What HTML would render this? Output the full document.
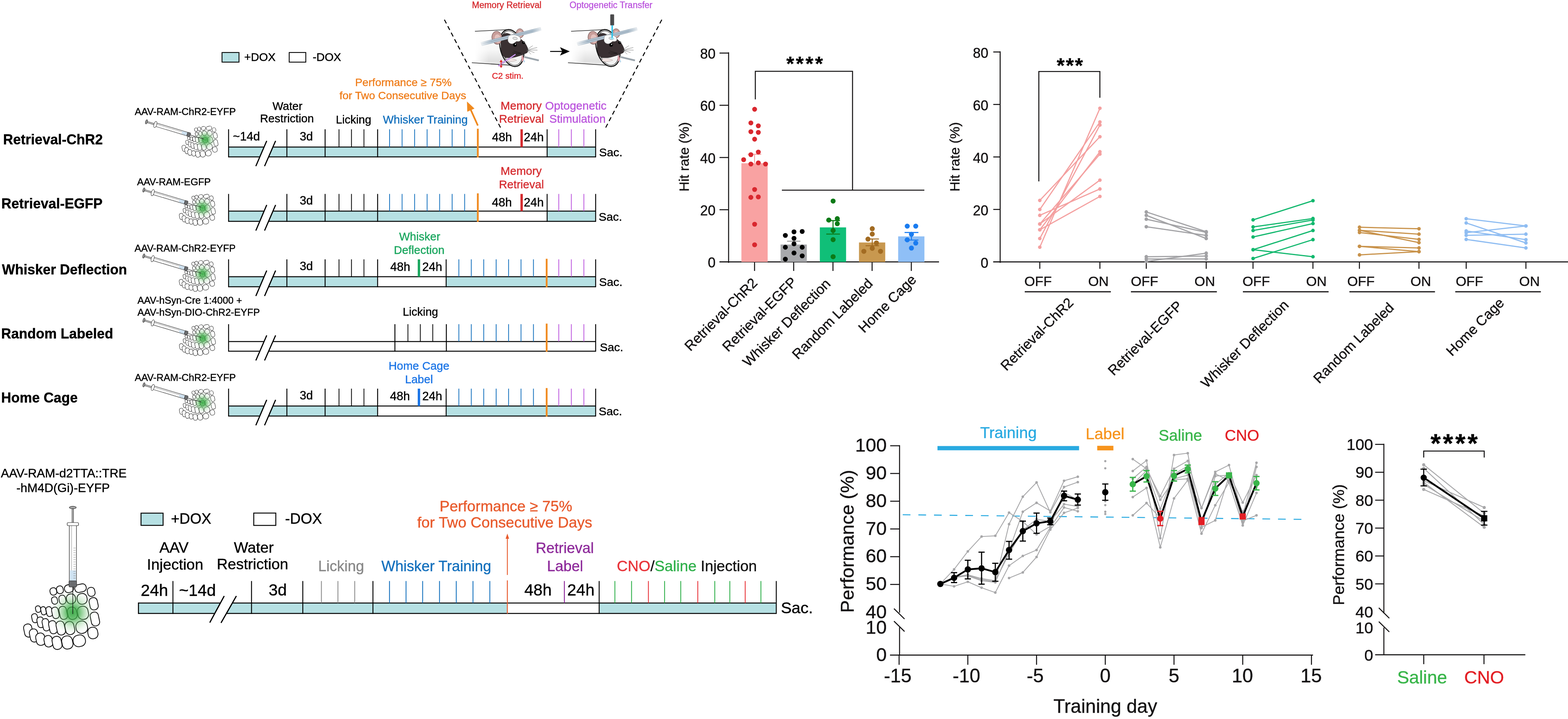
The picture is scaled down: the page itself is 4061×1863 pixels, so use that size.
<!DOCTYPE html>
<html><head><meta charset="utf-8"><title>Figure</title>
<style>
html,body{margin:0;padding:0;background:#fff;}
body{width:4061px;height:1863px;overflow:hidden;}
svg{display:block;}
svg text{font-family:'Liberation Sans', Arial, sans-serif;stroke-width:0.5px;}
</style></head><body>
<svg width="4061" height="1863" viewBox="0 0 4061 1863">
<rect x="0" y="0" width="4061" height="1863" fill="#fff"/>
<rect x="575" y="136" width="44" height="25" fill="#b6e0e3" stroke="#000" stroke-width="2.2"/>
<text x="632.5" y="158" font-size="29.5" fill="#000" stroke="#000">+DOX</text>
<rect x="749" y="136" width="43" height="25" fill="#fff" stroke="#000" stroke-width="2.2"/>
<text x="809.75" y="158" font-size="29.5" fill="#000" stroke="#000">-DOX</text>
<rect x="592" y="381" width="645" height="25.5" fill="#b6e0e3" stroke="none" stroke-width="0"/>
<rect x="1237" y="381" width="180" height="25.5" fill="#fff" stroke="none" stroke-width="0"/>
<rect x="1417" y="381" width="125.7" height="25.5" fill="#b6e0e3" stroke="none" stroke-width="0"/>
<line x1="592" y1="381" x2="1542.7" y2="381" stroke="#000" stroke-width="2.6"/>
<line x1="592" y1="406.5" x2="1542.7" y2="406.5" stroke="#000" stroke-width="2.6"/>
<line x1="592" y1="335" x2="592" y2="407.7" stroke="#000" stroke-width="2.4"/>
<line x1="743" y1="335" x2="743" y2="407.7" stroke="#000" stroke-width="2.4"/>
<line x1="842" y1="335" x2="842" y2="407.7" stroke="#000" stroke-width="2.4"/>
<line x1="978" y1="335" x2="978" y2="407.7" stroke="#000" stroke-width="2.4"/>
<line x1="1417" y1="335" x2="1417" y2="407.7" stroke="#000" stroke-width="2.4"/>
<line x1="1542.7" y1="335" x2="1542.7" y2="407.7" stroke="#000" stroke-width="2.4"/>
<line x1="878" y1="335" x2="878" y2="381" stroke="#000" stroke-width="2"/>
<line x1="910.3" y1="335" x2="910.3" y2="381" stroke="#000" stroke-width="2"/>
<line x1="942.6" y1="335" x2="942.6" y2="381" stroke="#000" stroke-width="2"/>
<line x1="1009" y1="335" x2="1009" y2="381" stroke="#1370bd" stroke-width="2"/>
<line x1="1041.4" y1="335" x2="1041.4" y2="381" stroke="#1370bd" stroke-width="2"/>
<line x1="1073.8" y1="335" x2="1073.8" y2="381" stroke="#1370bd" stroke-width="2"/>
<line x1="1106.2" y1="335" x2="1106.2" y2="381" stroke="#1370bd" stroke-width="2"/>
<line x1="1138.6" y1="335" x2="1138.6" y2="381" stroke="#1370bd" stroke-width="2"/>
<line x1="1171" y1="335" x2="1171" y2="381" stroke="#1370bd" stroke-width="2"/>
<line x1="1203.4" y1="335" x2="1203.4" y2="381" stroke="#1370bd" stroke-width="2"/>
<line x1="1447.2" y1="335" x2="1447.2" y2="381" stroke="#bb55dd" stroke-width="2"/>
<line x1="1479.7" y1="335" x2="1479.7" y2="381" stroke="#bb55dd" stroke-width="2"/>
<line x1="1512.2" y1="335" x2="1512.2" y2="381" stroke="#bb55dd" stroke-width="2"/>
<line x1="1351" y1="335" x2="1351" y2="381" stroke="#d52b2f" stroke-width="6.2"/>
<line x1="1237.5" y1="333.5" x2="1237.5" y2="408" stroke="#f08a1f" stroke-width="4.6"/>
<polygon points="684.77,379 707.69,379 694.81,408.5 672.07,408.5" fill="#fff" stroke="none" stroke-width="0"/>
<line x1="662.6" y1="430.5" x2="690.8" y2="365" stroke="#000" stroke-width="3"/>
<line x1="685.2" y1="430.5" x2="713.8" y2="365" stroke="#000" stroke-width="3"/>
<rect x="592" y="547" width="645" height="26.5" fill="#b6e0e3" stroke="none" stroke-width="0"/>
<rect x="1237" y="547" width="180" height="26.5" fill="#fff" stroke="none" stroke-width="0"/>
<rect x="1417" y="547" width="125.7" height="26.5" fill="#b6e0e3" stroke="none" stroke-width="0"/>
<line x1="592" y1="547" x2="1542.7" y2="547" stroke="#000" stroke-width="2.6"/>
<line x1="592" y1="573.5" x2="1542.7" y2="573.5" stroke="#000" stroke-width="2.6"/>
<line x1="592" y1="502.5" x2="592" y2="574.7" stroke="#000" stroke-width="2.4"/>
<line x1="743" y1="502.5" x2="743" y2="574.7" stroke="#000" stroke-width="2.4"/>
<line x1="842" y1="502.5" x2="842" y2="574.7" stroke="#000" stroke-width="2.4"/>
<line x1="978" y1="502.5" x2="978" y2="574.7" stroke="#000" stroke-width="2.4"/>
<line x1="1417" y1="502.5" x2="1417" y2="574.7" stroke="#000" stroke-width="2.4"/>
<line x1="1542.7" y1="502.5" x2="1542.7" y2="574.7" stroke="#000" stroke-width="2.4"/>
<line x1="878" y1="502.5" x2="878" y2="547" stroke="#000" stroke-width="2"/>
<line x1="910.3" y1="502.5" x2="910.3" y2="547" stroke="#000" stroke-width="2"/>
<line x1="942.6" y1="502.5" x2="942.6" y2="547" stroke="#000" stroke-width="2"/>
<line x1="1009" y1="502.5" x2="1009" y2="547" stroke="#1370bd" stroke-width="2"/>
<line x1="1041.4" y1="502.5" x2="1041.4" y2="547" stroke="#1370bd" stroke-width="2"/>
<line x1="1073.8" y1="502.5" x2="1073.8" y2="547" stroke="#1370bd" stroke-width="2"/>
<line x1="1106.2" y1="502.5" x2="1106.2" y2="547" stroke="#1370bd" stroke-width="2"/>
<line x1="1138.6" y1="502.5" x2="1138.6" y2="547" stroke="#1370bd" stroke-width="2"/>
<line x1="1171" y1="502.5" x2="1171" y2="547" stroke="#1370bd" stroke-width="2"/>
<line x1="1203.4" y1="502.5" x2="1203.4" y2="547" stroke="#1370bd" stroke-width="2"/>
<line x1="1447.2" y1="502.5" x2="1447.2" y2="547" stroke="#bb55dd" stroke-width="2"/>
<line x1="1479.7" y1="502.5" x2="1479.7" y2="547" stroke="#bb55dd" stroke-width="2"/>
<line x1="1512.2" y1="502.5" x2="1512.2" y2="547" stroke="#bb55dd" stroke-width="2"/>
<line x1="1351" y1="502.5" x2="1351" y2="547" stroke="#d52b2f" stroke-width="6.2"/>
<line x1="1237.5" y1="501" x2="1237.5" y2="575" stroke="#f08a1f" stroke-width="4.6"/>
<polygon points="684.86,545 707.78,545 694.66,575.5 671.93,575.5" fill="#fff" stroke="none" stroke-width="0"/>
<line x1="662.6" y1="597.5" x2="690.8" y2="531" stroke="#000" stroke-width="3"/>
<line x1="685.2" y1="597.5" x2="713.8" y2="531" stroke="#000" stroke-width="3"/>
<rect x="592" y="717" width="386" height="26" fill="#b6e0e3" stroke="none" stroke-width="0"/>
<rect x="978" y="717" width="177.5" height="26" fill="#fff" stroke="none" stroke-width="0"/>
<rect x="1155.5" y="717" width="387.2" height="26" fill="#b6e0e3" stroke="none" stroke-width="0"/>
<line x1="592" y1="717" x2="1542.7" y2="717" stroke="#000" stroke-width="2.6"/>
<line x1="592" y1="743" x2="1542.7" y2="743" stroke="#000" stroke-width="2.6"/>
<line x1="592" y1="672" x2="592" y2="744.2" stroke="#000" stroke-width="2.4"/>
<line x1="743" y1="672" x2="743" y2="744.2" stroke="#000" stroke-width="2.4"/>
<line x1="842" y1="672" x2="842" y2="744.2" stroke="#000" stroke-width="2.4"/>
<line x1="978" y1="672" x2="978" y2="744.2" stroke="#000" stroke-width="2.4"/>
<line x1="1155.5" y1="672" x2="1155.5" y2="744.2" stroke="#000" stroke-width="2.4"/>
<line x1="1542.7" y1="672" x2="1542.7" y2="744.2" stroke="#000" stroke-width="2.4"/>
<line x1="878" y1="672" x2="878" y2="717" stroke="#000" stroke-width="2"/>
<line x1="910.3" y1="672" x2="910.3" y2="717" stroke="#000" stroke-width="2"/>
<line x1="942.6" y1="672" x2="942.6" y2="717" stroke="#000" stroke-width="2"/>
<line x1="1188.4" y1="672" x2="1188.4" y2="717" stroke="#1370bd" stroke-width="2"/>
<line x1="1220.6" y1="672" x2="1220.6" y2="717" stroke="#1370bd" stroke-width="2"/>
<line x1="1252.8" y1="672" x2="1252.8" y2="717" stroke="#1370bd" stroke-width="2"/>
<line x1="1285" y1="672" x2="1285" y2="717" stroke="#1370bd" stroke-width="2"/>
<line x1="1317.2" y1="672" x2="1317.2" y2="717" stroke="#1370bd" stroke-width="2"/>
<line x1="1349.4" y1="672" x2="1349.4" y2="717" stroke="#1370bd" stroke-width="2"/>
<line x1="1381.6" y1="672" x2="1381.6" y2="717" stroke="#1370bd" stroke-width="2"/>
<line x1="1447.2" y1="672" x2="1447.2" y2="717" stroke="#bb55dd" stroke-width="2"/>
<line x1="1479.7" y1="672" x2="1479.7" y2="717" stroke="#bb55dd" stroke-width="2"/>
<line x1="1512.2" y1="672" x2="1512.2" y2="717" stroke="#bb55dd" stroke-width="2"/>
<line x1="1085" y1="672" x2="1085" y2="717" stroke="#1ba75f" stroke-width="6.2"/>
<line x1="1415.8" y1="670.5" x2="1415.8" y2="744.5" stroke="#f08a1f" stroke-width="4.6"/>
<polygon points="684.82,715 707.73,715 694.73,745 672,745" fill="#fff" stroke="none" stroke-width="0"/>
<line x1="662.6" y1="767" x2="690.8" y2="701" stroke="#000" stroke-width="3"/>
<line x1="685.2" y1="767" x2="713.8" y2="701" stroke="#000" stroke-width="3"/>
<rect x="592" y="885" width="950.7" height="25" fill="#fff" stroke="none" stroke-width="0"/>
<line x1="592" y1="885" x2="1542.7" y2="885" stroke="#000" stroke-width="2.6"/>
<line x1="592" y1="910" x2="1542.7" y2="910" stroke="#000" stroke-width="2.6"/>
<line x1="592" y1="840" x2="592" y2="911.2" stroke="#000" stroke-width="2.4"/>
<line x1="1022.8" y1="840" x2="1022.8" y2="911.2" stroke="#000" stroke-width="2.4"/>
<line x1="1156" y1="840" x2="1156" y2="911.2" stroke="#000" stroke-width="2.4"/>
<line x1="1542.7" y1="840" x2="1542.7" y2="911.2" stroke="#000" stroke-width="2.4"/>
<line x1="1056.5" y1="840" x2="1056.5" y2="885" stroke="#000" stroke-width="2"/>
<line x1="1088.6" y1="840" x2="1088.6" y2="885" stroke="#000" stroke-width="2"/>
<line x1="1120.8" y1="840" x2="1120.8" y2="885" stroke="#000" stroke-width="2"/>
<line x1="1188.4" y1="840" x2="1188.4" y2="885" stroke="#1370bd" stroke-width="2"/>
<line x1="1220.6" y1="840" x2="1220.6" y2="885" stroke="#1370bd" stroke-width="2"/>
<line x1="1252.8" y1="840" x2="1252.8" y2="885" stroke="#1370bd" stroke-width="2"/>
<line x1="1285" y1="840" x2="1285" y2="885" stroke="#1370bd" stroke-width="2"/>
<line x1="1317.2" y1="840" x2="1317.2" y2="885" stroke="#1370bd" stroke-width="2"/>
<line x1="1349.4" y1="840" x2="1349.4" y2="885" stroke="#1370bd" stroke-width="2"/>
<line x1="1381.6" y1="840" x2="1381.6" y2="885" stroke="#1370bd" stroke-width="2"/>
<line x1="1447.2" y1="840" x2="1447.2" y2="885" stroke="#bb55dd" stroke-width="2"/>
<line x1="1479.7" y1="840" x2="1479.7" y2="885" stroke="#bb55dd" stroke-width="2"/>
<line x1="1512.2" y1="840" x2="1512.2" y2="885" stroke="#bb55dd" stroke-width="2"/>
<line x1="1415.8" y1="838.5" x2="1415.8" y2="911.5" stroke="#f08a1f" stroke-width="4.6"/>
<polygon points="684.73,883 707.64,883 694.88,912 672.14,912" fill="#fff" stroke="none" stroke-width="0"/>
<line x1="662.6" y1="934" x2="690.8" y2="869" stroke="#000" stroke-width="3"/>
<line x1="685.2" y1="934" x2="713.8" y2="869" stroke="#000" stroke-width="3"/>
<rect x="592" y="1052" width="386" height="26" fill="#b6e0e3" stroke="none" stroke-width="0"/>
<rect x="978" y="1052" width="177.5" height="26" fill="#fff" stroke="none" stroke-width="0"/>
<rect x="1155.5" y="1052" width="387.2" height="26" fill="#b6e0e3" stroke="none" stroke-width="0"/>
<line x1="592" y1="1052" x2="1542.7" y2="1052" stroke="#000" stroke-width="2.6"/>
<line x1="592" y1="1078" x2="1542.7" y2="1078" stroke="#000" stroke-width="2.6"/>
<line x1="592" y1="1007" x2="592" y2="1079.2" stroke="#000" stroke-width="2.4"/>
<line x1="743" y1="1007" x2="743" y2="1079.2" stroke="#000" stroke-width="2.4"/>
<line x1="842" y1="1007" x2="842" y2="1079.2" stroke="#000" stroke-width="2.4"/>
<line x1="978" y1="1007" x2="978" y2="1079.2" stroke="#000" stroke-width="2.4"/>
<line x1="1155.5" y1="1007" x2="1155.5" y2="1079.2" stroke="#000" stroke-width="2.4"/>
<line x1="1542.7" y1="1007" x2="1542.7" y2="1079.2" stroke="#000" stroke-width="2.4"/>
<line x1="878" y1="1007" x2="878" y2="1052" stroke="#000" stroke-width="2"/>
<line x1="910.3" y1="1007" x2="910.3" y2="1052" stroke="#000" stroke-width="2"/>
<line x1="942.6" y1="1007" x2="942.6" y2="1052" stroke="#000" stroke-width="2"/>
<line x1="1188.4" y1="1007" x2="1188.4" y2="1052" stroke="#1370bd" stroke-width="2"/>
<line x1="1220.6" y1="1007" x2="1220.6" y2="1052" stroke="#1370bd" stroke-width="2"/>
<line x1="1252.8" y1="1007" x2="1252.8" y2="1052" stroke="#1370bd" stroke-width="2"/>
<line x1="1285" y1="1007" x2="1285" y2="1052" stroke="#1370bd" stroke-width="2"/>
<line x1="1317.2" y1="1007" x2="1317.2" y2="1052" stroke="#1370bd" stroke-width="2"/>
<line x1="1349.4" y1="1007" x2="1349.4" y2="1052" stroke="#1370bd" stroke-width="2"/>
<line x1="1381.6" y1="1007" x2="1381.6" y2="1052" stroke="#1370bd" stroke-width="2"/>
<line x1="1447.2" y1="1007" x2="1447.2" y2="1052" stroke="#bb55dd" stroke-width="2"/>
<line x1="1479.7" y1="1007" x2="1479.7" y2="1052" stroke="#bb55dd" stroke-width="2"/>
<line x1="1512.2" y1="1007" x2="1512.2" y2="1052" stroke="#bb55dd" stroke-width="2"/>
<line x1="1085" y1="1007" x2="1085" y2="1052" stroke="#1a74e6" stroke-width="6.2"/>
<line x1="1415.8" y1="1005.5" x2="1415.8" y2="1079.5" stroke="#f08a1f" stroke-width="4.6"/>
<polygon points="684.82,1050 707.73,1050 694.73,1080 672,1080" fill="#fff" stroke="none" stroke-width="0"/>
<line x1="662.6" y1="1102" x2="690.8" y2="1036" stroke="#000" stroke-width="3"/>
<line x1="685.2" y1="1102" x2="713.8" y2="1036" stroke="#000" stroke-width="3"/>
<text x="8.1" y="374" font-size="36" font-weight="bold" fill="#000" stroke="#000">Retrieval-ChR2</text>
<text x="3.5" y="540" font-size="36" font-weight="bold" fill="#000" stroke="#000">Retrieval-EGFP</text>
<text x="5" y="711" font-size="36" font-weight="bold" fill="#000" stroke="#000">Whisker Deflection</text>
<text x="3.1" y="877" font-size="36" font-weight="bold" fill="#000" stroke="#000">Random Labeled</text>
<text x="3.1" y="1043" font-size="36" font-weight="bold" fill="#000" stroke="#000">Home Cage</text>
<text x="349" y="298" font-size="25.5" fill="#000" stroke="#000">AAV-RAM-ChR2-EYFP</text>
<text x="355" y="480" font-size="25.5" fill="#000" stroke="#000">AAV-RAM-EGFP</text>
<text x="348.6" y="651.7" font-size="25.5" fill="#000" stroke="#000">AAV-RAM-ChR2-EYFP</text>
<text x="356" y="787" font-size="25.5" fill="#000" stroke="#000">AAV-hSyn-Cre 1:4000 +</text>
<text x="356" y="817.5" font-size="25.5" fill="#000" stroke="#000">AAV-hSyn-DIO-ChR2-EYFP</text>
<text x="349" y="986.5" font-size="25.5" fill="#000" stroke="#000">AAV-RAM-ChR2-EYFP</text>
<defs><radialGradient id="gg1" cx="0.5" cy="0.5" r="0.5"><stop offset="0" stop-color="#37a943" stop-opacity="0.95"/><stop offset="0.3" stop-color="#3fae49" stop-opacity="0.75"/><stop offset="0.65" stop-color="#6cc26f" stop-opacity="0.28"/><stop offset="1" stop-color="#a5dba5" stop-opacity="0"/></radialGradient></defs>
<g transform="translate(379.3 315.7)">
<rect x="124.35" y="15.77" width="8.12" height="9.14" rx="3.74" fill="#fff" stroke="#111" stroke-width="0.95" transform="rotate(-12 128.42 20.34)"/>
<rect x="132.48" y="13.49" width="8.12" height="9.64" rx="3.74" fill="#fff" stroke="#111" stroke-width="0.95" transform="rotate(-12 136.54 18.31)"/>
<rect x="142.12" y="11.96" width="11.17" height="9.64" rx="4.44" fill="#fff" stroke="#111" stroke-width="0.95" transform="rotate(-12 147.71 16.79)"/>
<rect x="154.81" y="11.46" width="14.21" height="9.64" rx="4.44" fill="#fff" stroke="#111" stroke-width="0.95" transform="rotate(-12 161.92 16.28)"/>
<rect x="170.55" y="15.26" width="9.14" height="11.17" rx="4.2" fill="#fff" stroke="#111" stroke-width="0.95" transform="rotate(-12 175.12 20.85)"/>
<rect x="126.39" y="26.94" width="7.11" height="9.14" rx="3.27" fill="#fff" stroke="#111" stroke-width="0.95" transform="rotate(-12 129.94 31.51)"/>
<rect x="135.52" y="24.91" width="8.12" height="11.17" rx="3.74" fill="#fff" stroke="#111" stroke-width="0.95" transform="rotate(-12 139.58 30.49)"/>
<rect x="144.66" y="23.39" width="11.17" height="12.18" rx="5.14" fill="#fff" stroke="#111" stroke-width="0.95" transform="rotate(-12 150.24 29.48)"/>
<rect x="157.86" y="22.88" width="12.18" height="13.2" rx="5.6" fill="#fff" stroke="#111" stroke-width="0.95" transform="rotate(-12 163.95 29.48)"/>
<rect x="173.09" y="27.95" width="10.15" height="15.23" rx="4.67" fill="#fff" stroke="#111" stroke-width="0.95" transform="rotate(-12 178.16 35.57)"/>
<rect x="106.59" y="38.11" width="6.09" height="8.12" rx="2.8" fill="#fff" stroke="#111" stroke-width="0.95" transform="rotate(-12 109.63 42.17)"/>
<rect x="113.19" y="39.12" width="6.09" height="10.15" rx="2.8" fill="#fff" stroke="#111" stroke-width="0.95" transform="rotate(-12 116.23 44.2)"/>
<rect x="119.79" y="39.12" width="7.11" height="12.18" rx="3.27" fill="#fff" stroke="#111" stroke-width="0.95" transform="rotate(-12 123.34 45.21)"/>
<rect x="126.89" y="39.63" width="8.12" height="14.21" rx="3.74" fill="#fff" stroke="#111" stroke-width="0.95" transform="rotate(-12 130.95 46.74)"/>
<rect x="136.03" y="38.61" width="9.14" height="16.24" rx="4.2" fill="#fff" stroke="#111" stroke-width="0.95" transform="rotate(-12 140.6 46.74)"/>
<rect x="146.18" y="39.63" width="11.17" height="15.23" rx="5.14" fill="#fff" stroke="#111" stroke-width="0.95" transform="rotate(-12 151.77 47.24)"/>
<rect x="158.36" y="38.61" width="13.2" height="16.24" rx="6.07" fill="#fff" stroke="#111" stroke-width="0.95" transform="rotate(-12 164.96 46.74)"/>
<rect x="174.61" y="45.72" width="10.15" height="17.26" rx="4.67" fill="#fff" stroke="#111" stroke-width="0.95" transform="rotate(-12 179.68 54.35)"/>
<rect x="102.02" y="47.75" width="7.11" height="11.17" rx="3.27" fill="#fff" stroke="#111" stroke-width="0.95" transform="rotate(-12 105.57 53.34)"/>
<rect x="108.62" y="51.81" width="8.12" height="13.2" rx="3.74" fill="#fff" stroke="#111" stroke-width="0.95" transform="rotate(-12 112.68 58.41)"/>
<rect x="115.22" y="53.84" width="8.12" height="15.23" rx="3.74" fill="#fff" stroke="#111" stroke-width="0.95" transform="rotate(-12 119.28 61.46)"/>
<rect x="123.34" y="56.38" width="9.14" height="16.24" rx="4.2" fill="#fff" stroke="#111" stroke-width="0.95" transform="rotate(-12 127.91 64.5)"/>
<rect x="132.48" y="56.89" width="10.15" height="17.26" rx="4.67" fill="#fff" stroke="#111" stroke-width="0.95" transform="rotate(-12 137.55 65.52)"/>
<rect x="143.14" y="57.4" width="11.17" height="16.24" rx="5.14" fill="#fff" stroke="#111" stroke-width="0.95" transform="rotate(-12 148.72 65.52)"/>
<rect x="156.33" y="56.89" width="14.21" height="15.23" rx="6.54" fill="#fff" stroke="#111" stroke-width="0.95" transform="rotate(-12 163.44 64.5)"/>
<rect x="171.06" y="64.5" width="12.18" height="14.21" rx="5.6" fill="#fff" stroke="#111" stroke-width="0.95" transform="rotate(-12 177.15 71.61)"/>
<rect x="92.38" y="60.44" width="10.15" height="16.24" rx="4.67" fill="#fff" stroke="#111" stroke-width="0.95" transform="rotate(-12 97.45 68.56)"/>
<rect x="99.48" y="66.53" width="10.15" height="16.24" rx="4.67" fill="#fff" stroke="#111" stroke-width="0.95" transform="rotate(-12 104.56 74.66)"/>
<rect x="107.1" y="71.61" width="11.17" height="15.23" rx="5.14" fill="#fff" stroke="#111" stroke-width="0.95" transform="rotate(-12 112.68 79.22)"/>
<rect x="117.25" y="74.66" width="10.15" height="14.21" rx="4.67" fill="#fff" stroke="#111" stroke-width="0.95" transform="rotate(-12 122.32 81.76)"/>
<rect x="127.4" y="75.67" width="11.17" height="16.24" rx="5.14" fill="#fff" stroke="#111" stroke-width="0.95" transform="rotate(-12 132.98 83.79)"/>
<rect x="139.08" y="75.16" width="13.2" height="16.24" rx="6.07" fill="#fff" stroke="#111" stroke-width="0.95" transform="rotate(-12 145.67 83.28)"/>
<rect x="152.78" y="74.15" width="15.23" height="14.21" rx="6.54" fill="#fff" stroke="#111" stroke-width="0.95" transform="rotate(-12 160.4 81.25)"/>
<ellipse cx="152.3" cy="46.3" rx="27" ry="27" fill="url(#gg1)"/>
</g>
<g transform="translate(379.3 315.7) rotate(16.7)">
<rect x="0" y="-1.6" width="24" height="3.2" fill="#d8d8d8" stroke="#222" stroke-width="0.9"/>
<ellipse cx="0" cy="0" rx="2.4" ry="5.6" fill="#999" stroke="#222" stroke-width="1"/>
<rect x="24" y="-4.6" width="87" height="9.2" fill="#fff" stroke="#222" stroke-width="1"/>
<line x1="25" y1="-1.6" x2="100" y2="-1.6" stroke="#666" stroke-width="0.7"/>
<rect x="96" y="-4" width="14" height="8" fill="#cfe2f1"/>
<line x1="55.0" y1="2" x2="55.0" y2="4.2" stroke="#777" stroke-width="0.5"/>
<line x1="59.5" y1="2" x2="59.5" y2="4.2" stroke="#777" stroke-width="0.5"/>
<line x1="64.0" y1="2" x2="64.0" y2="4.2" stroke="#777" stroke-width="0.5"/>
<line x1="68.5" y1="2" x2="68.5" y2="4.2" stroke="#777" stroke-width="0.5"/>
<line x1="73.0" y1="2" x2="73.0" y2="4.2" stroke="#777" stroke-width="0.5"/>
<line x1="77.5" y1="2" x2="77.5" y2="4.2" stroke="#777" stroke-width="0.5"/>
<line x1="82.0" y1="2" x2="82.0" y2="4.2" stroke="#777" stroke-width="0.5"/>
<line x1="86.5" y1="2" x2="86.5" y2="4.2" stroke="#777" stroke-width="0.5"/>
<line x1="91.0" y1="2" x2="91.0" y2="4.2" stroke="#777" stroke-width="0.5"/>
<line x1="95.5" y1="2" x2="95.5" y2="4.2" stroke="#777" stroke-width="0.5"/>
<line x1="100.0" y1="2" x2="100.0" y2="4.2" stroke="#777" stroke-width="0.5"/>
<line x1="104.5" y1="2" x2="104.5" y2="4.2" stroke="#777" stroke-width="0.5"/>
<ellipse cx="24" cy="0" rx="3.6" ry="8.4" fill="#fff" stroke="#222" stroke-width="1"/>
<rect x="110" y="-5.2" width="8.5" height="10.4" rx="1.5" fill="#6a6c6f" stroke="#222" stroke-width="0.8"/>
<line x1="118" y1="0" x2="155.5" y2="0" stroke="#222" stroke-width="1.1"/>
</g>
<defs><radialGradient id="gg2" cx="0.5" cy="0.5" r="0.5"><stop offset="0" stop-color="#37a943" stop-opacity="0.95"/><stop offset="0.3" stop-color="#3fae49" stop-opacity="0.75"/><stop offset="0.65" stop-color="#6cc26f" stop-opacity="0.28"/><stop offset="1" stop-color="#a5dba5" stop-opacity="0"/></radialGradient></defs>
<g transform="translate(372.5 492.3)">
<rect x="124.35" y="15.77" width="8.12" height="9.14" rx="3.74" fill="#fff" stroke="#111" stroke-width="0.95" transform="rotate(-12 128.42 20.34)"/>
<rect x="132.48" y="13.49" width="8.12" height="9.64" rx="3.74" fill="#fff" stroke="#111" stroke-width="0.95" transform="rotate(-12 136.54 18.31)"/>
<rect x="142.12" y="11.96" width="11.17" height="9.64" rx="4.44" fill="#fff" stroke="#111" stroke-width="0.95" transform="rotate(-12 147.71 16.79)"/>
<rect x="154.81" y="11.46" width="14.21" height="9.64" rx="4.44" fill="#fff" stroke="#111" stroke-width="0.95" transform="rotate(-12 161.92 16.28)"/>
<rect x="170.55" y="15.26" width="9.14" height="11.17" rx="4.2" fill="#fff" stroke="#111" stroke-width="0.95" transform="rotate(-12 175.12 20.85)"/>
<rect x="126.39" y="26.94" width="7.11" height="9.14" rx="3.27" fill="#fff" stroke="#111" stroke-width="0.95" transform="rotate(-12 129.94 31.51)"/>
<rect x="135.52" y="24.91" width="8.12" height="11.17" rx="3.74" fill="#fff" stroke="#111" stroke-width="0.95" transform="rotate(-12 139.58 30.49)"/>
<rect x="144.66" y="23.39" width="11.17" height="12.18" rx="5.14" fill="#fff" stroke="#111" stroke-width="0.95" transform="rotate(-12 150.24 29.48)"/>
<rect x="157.86" y="22.88" width="12.18" height="13.2" rx="5.6" fill="#fff" stroke="#111" stroke-width="0.95" transform="rotate(-12 163.95 29.48)"/>
<rect x="173.09" y="27.95" width="10.15" height="15.23" rx="4.67" fill="#fff" stroke="#111" stroke-width="0.95" transform="rotate(-12 178.16 35.57)"/>
<rect x="106.59" y="38.11" width="6.09" height="8.12" rx="2.8" fill="#fff" stroke="#111" stroke-width="0.95" transform="rotate(-12 109.63 42.17)"/>
<rect x="113.19" y="39.12" width="6.09" height="10.15" rx="2.8" fill="#fff" stroke="#111" stroke-width="0.95" transform="rotate(-12 116.23 44.2)"/>
<rect x="119.79" y="39.12" width="7.11" height="12.18" rx="3.27" fill="#fff" stroke="#111" stroke-width="0.95" transform="rotate(-12 123.34 45.21)"/>
<rect x="126.89" y="39.63" width="8.12" height="14.21" rx="3.74" fill="#fff" stroke="#111" stroke-width="0.95" transform="rotate(-12 130.95 46.74)"/>
<rect x="136.03" y="38.61" width="9.14" height="16.24" rx="4.2" fill="#fff" stroke="#111" stroke-width="0.95" transform="rotate(-12 140.6 46.74)"/>
<rect x="146.18" y="39.63" width="11.17" height="15.23" rx="5.14" fill="#fff" stroke="#111" stroke-width="0.95" transform="rotate(-12 151.77 47.24)"/>
<rect x="158.36" y="38.61" width="13.2" height="16.24" rx="6.07" fill="#fff" stroke="#111" stroke-width="0.95" transform="rotate(-12 164.96 46.74)"/>
<rect x="174.61" y="45.72" width="10.15" height="17.26" rx="4.67" fill="#fff" stroke="#111" stroke-width="0.95" transform="rotate(-12 179.68 54.35)"/>
<rect x="102.02" y="47.75" width="7.11" height="11.17" rx="3.27" fill="#fff" stroke="#111" stroke-width="0.95" transform="rotate(-12 105.57 53.34)"/>
<rect x="108.62" y="51.81" width="8.12" height="13.2" rx="3.74" fill="#fff" stroke="#111" stroke-width="0.95" transform="rotate(-12 112.68 58.41)"/>
<rect x="115.22" y="53.84" width="8.12" height="15.23" rx="3.74" fill="#fff" stroke="#111" stroke-width="0.95" transform="rotate(-12 119.28 61.46)"/>
<rect x="123.34" y="56.38" width="9.14" height="16.24" rx="4.2" fill="#fff" stroke="#111" stroke-width="0.95" transform="rotate(-12 127.91 64.5)"/>
<rect x="132.48" y="56.89" width="10.15" height="17.26" rx="4.67" fill="#fff" stroke="#111" stroke-width="0.95" transform="rotate(-12 137.55 65.52)"/>
<rect x="143.14" y="57.4" width="11.17" height="16.24" rx="5.14" fill="#fff" stroke="#111" stroke-width="0.95" transform="rotate(-12 148.72 65.52)"/>
<rect x="156.33" y="56.89" width="14.21" height="15.23" rx="6.54" fill="#fff" stroke="#111" stroke-width="0.95" transform="rotate(-12 163.44 64.5)"/>
<rect x="171.06" y="64.5" width="12.18" height="14.21" rx="5.6" fill="#fff" stroke="#111" stroke-width="0.95" transform="rotate(-12 177.15 71.61)"/>
<rect x="92.38" y="60.44" width="10.15" height="16.24" rx="4.67" fill="#fff" stroke="#111" stroke-width="0.95" transform="rotate(-12 97.45 68.56)"/>
<rect x="99.48" y="66.53" width="10.15" height="16.24" rx="4.67" fill="#fff" stroke="#111" stroke-width="0.95" transform="rotate(-12 104.56 74.66)"/>
<rect x="107.1" y="71.61" width="11.17" height="15.23" rx="5.14" fill="#fff" stroke="#111" stroke-width="0.95" transform="rotate(-12 112.68 79.22)"/>
<rect x="117.25" y="74.66" width="10.15" height="14.21" rx="4.67" fill="#fff" stroke="#111" stroke-width="0.95" transform="rotate(-12 122.32 81.76)"/>
<rect x="127.4" y="75.67" width="11.17" height="16.24" rx="5.14" fill="#fff" stroke="#111" stroke-width="0.95" transform="rotate(-12 132.98 83.79)"/>
<rect x="139.08" y="75.16" width="13.2" height="16.24" rx="6.07" fill="#fff" stroke="#111" stroke-width="0.95" transform="rotate(-12 145.67 83.28)"/>
<rect x="152.78" y="74.15" width="15.23" height="14.21" rx="6.54" fill="#fff" stroke="#111" stroke-width="0.95" transform="rotate(-12 160.4 81.25)"/>
<ellipse cx="152.3" cy="46.3" rx="27" ry="27" fill="url(#gg2)"/>
</g>
<g transform="translate(372.5 492.3) rotate(16.7)">
<rect x="0" y="-1.6" width="24" height="3.2" fill="#d8d8d8" stroke="#222" stroke-width="0.9"/>
<ellipse cx="0" cy="0" rx="2.4" ry="5.6" fill="#999" stroke="#222" stroke-width="1"/>
<rect x="24" y="-4.6" width="87" height="9.2" fill="#fff" stroke="#222" stroke-width="1"/>
<line x1="25" y1="-1.6" x2="100" y2="-1.6" stroke="#666" stroke-width="0.7"/>
<rect x="96" y="-4" width="14" height="8" fill="#cfe2f1"/>
<line x1="55.0" y1="2" x2="55.0" y2="4.2" stroke="#777" stroke-width="0.5"/>
<line x1="59.5" y1="2" x2="59.5" y2="4.2" stroke="#777" stroke-width="0.5"/>
<line x1="64.0" y1="2" x2="64.0" y2="4.2" stroke="#777" stroke-width="0.5"/>
<line x1="68.5" y1="2" x2="68.5" y2="4.2" stroke="#777" stroke-width="0.5"/>
<line x1="73.0" y1="2" x2="73.0" y2="4.2" stroke="#777" stroke-width="0.5"/>
<line x1="77.5" y1="2" x2="77.5" y2="4.2" stroke="#777" stroke-width="0.5"/>
<line x1="82.0" y1="2" x2="82.0" y2="4.2" stroke="#777" stroke-width="0.5"/>
<line x1="86.5" y1="2" x2="86.5" y2="4.2" stroke="#777" stroke-width="0.5"/>
<line x1="91.0" y1="2" x2="91.0" y2="4.2" stroke="#777" stroke-width="0.5"/>
<line x1="95.5" y1="2" x2="95.5" y2="4.2" stroke="#777" stroke-width="0.5"/>
<line x1="100.0" y1="2" x2="100.0" y2="4.2" stroke="#777" stroke-width="0.5"/>
<line x1="104.5" y1="2" x2="104.5" y2="4.2" stroke="#777" stroke-width="0.5"/>
<ellipse cx="24" cy="0" rx="3.6" ry="8.4" fill="#fff" stroke="#222" stroke-width="1"/>
<rect x="110" y="-5.2" width="8.5" height="10.4" rx="1.5" fill="#6a6c6f" stroke="#222" stroke-width="0.8"/>
<line x1="118" y1="0" x2="155.5" y2="0" stroke="#222" stroke-width="1.1"/>
</g>
<defs><radialGradient id="gg3" cx="0.5" cy="0.5" r="0.5"><stop offset="0" stop-color="#37a943" stop-opacity="0.95"/><stop offset="0.3" stop-color="#3fae49" stop-opacity="0.75"/><stop offset="0.65" stop-color="#6cc26f" stop-opacity="0.28"/><stop offset="1" stop-color="#a5dba5" stop-opacity="0"/></radialGradient></defs>
<g transform="translate(372.3 663.3)">
<rect x="124.35" y="15.77" width="8.12" height="9.14" rx="3.74" fill="#fff" stroke="#111" stroke-width="0.95" transform="rotate(-12 128.42 20.34)"/>
<rect x="132.48" y="13.49" width="8.12" height="9.64" rx="3.74" fill="#fff" stroke="#111" stroke-width="0.95" transform="rotate(-12 136.54 18.31)"/>
<rect x="142.12" y="11.96" width="11.17" height="9.64" rx="4.44" fill="#fff" stroke="#111" stroke-width="0.95" transform="rotate(-12 147.71 16.79)"/>
<rect x="154.81" y="11.46" width="14.21" height="9.64" rx="4.44" fill="#fff" stroke="#111" stroke-width="0.95" transform="rotate(-12 161.92 16.28)"/>
<rect x="170.55" y="15.26" width="9.14" height="11.17" rx="4.2" fill="#fff" stroke="#111" stroke-width="0.95" transform="rotate(-12 175.12 20.85)"/>
<rect x="126.39" y="26.94" width="7.11" height="9.14" rx="3.27" fill="#fff" stroke="#111" stroke-width="0.95" transform="rotate(-12 129.94 31.51)"/>
<rect x="135.52" y="24.91" width="8.12" height="11.17" rx="3.74" fill="#fff" stroke="#111" stroke-width="0.95" transform="rotate(-12 139.58 30.49)"/>
<rect x="144.66" y="23.39" width="11.17" height="12.18" rx="5.14" fill="#fff" stroke="#111" stroke-width="0.95" transform="rotate(-12 150.24 29.48)"/>
<rect x="157.86" y="22.88" width="12.18" height="13.2" rx="5.6" fill="#fff" stroke="#111" stroke-width="0.95" transform="rotate(-12 163.95 29.48)"/>
<rect x="173.09" y="27.95" width="10.15" height="15.23" rx="4.67" fill="#fff" stroke="#111" stroke-width="0.95" transform="rotate(-12 178.16 35.57)"/>
<rect x="106.59" y="38.11" width="6.09" height="8.12" rx="2.8" fill="#fff" stroke="#111" stroke-width="0.95" transform="rotate(-12 109.63 42.17)"/>
<rect x="113.19" y="39.12" width="6.09" height="10.15" rx="2.8" fill="#fff" stroke="#111" stroke-width="0.95" transform="rotate(-12 116.23 44.2)"/>
<rect x="119.79" y="39.12" width="7.11" height="12.18" rx="3.27" fill="#fff" stroke="#111" stroke-width="0.95" transform="rotate(-12 123.34 45.21)"/>
<rect x="126.89" y="39.63" width="8.12" height="14.21" rx="3.74" fill="#fff" stroke="#111" stroke-width="0.95" transform="rotate(-12 130.95 46.74)"/>
<rect x="136.03" y="38.61" width="9.14" height="16.24" rx="4.2" fill="#fff" stroke="#111" stroke-width="0.95" transform="rotate(-12 140.6 46.74)"/>
<rect x="146.18" y="39.63" width="11.17" height="15.23" rx="5.14" fill="#fff" stroke="#111" stroke-width="0.95" transform="rotate(-12 151.77 47.24)"/>
<rect x="158.36" y="38.61" width="13.2" height="16.24" rx="6.07" fill="#fff" stroke="#111" stroke-width="0.95" transform="rotate(-12 164.96 46.74)"/>
<rect x="174.61" y="45.72" width="10.15" height="17.26" rx="4.67" fill="#fff" stroke="#111" stroke-width="0.95" transform="rotate(-12 179.68 54.35)"/>
<rect x="102.02" y="47.75" width="7.11" height="11.17" rx="3.27" fill="#fff" stroke="#111" stroke-width="0.95" transform="rotate(-12 105.57 53.34)"/>
<rect x="108.62" y="51.81" width="8.12" height="13.2" rx="3.74" fill="#fff" stroke="#111" stroke-width="0.95" transform="rotate(-12 112.68 58.41)"/>
<rect x="115.22" y="53.84" width="8.12" height="15.23" rx="3.74" fill="#fff" stroke="#111" stroke-width="0.95" transform="rotate(-12 119.28 61.46)"/>
<rect x="123.34" y="56.38" width="9.14" height="16.24" rx="4.2" fill="#fff" stroke="#111" stroke-width="0.95" transform="rotate(-12 127.91 64.5)"/>
<rect x="132.48" y="56.89" width="10.15" height="17.26" rx="4.67" fill="#fff" stroke="#111" stroke-width="0.95" transform="rotate(-12 137.55 65.52)"/>
<rect x="143.14" y="57.4" width="11.17" height="16.24" rx="5.14" fill="#fff" stroke="#111" stroke-width="0.95" transform="rotate(-12 148.72 65.52)"/>
<rect x="156.33" y="56.89" width="14.21" height="15.23" rx="6.54" fill="#fff" stroke="#111" stroke-width="0.95" transform="rotate(-12 163.44 64.5)"/>
<rect x="171.06" y="64.5" width="12.18" height="14.21" rx="5.6" fill="#fff" stroke="#111" stroke-width="0.95" transform="rotate(-12 177.15 71.61)"/>
<rect x="92.38" y="60.44" width="10.15" height="16.24" rx="4.67" fill="#fff" stroke="#111" stroke-width="0.95" transform="rotate(-12 97.45 68.56)"/>
<rect x="99.48" y="66.53" width="10.15" height="16.24" rx="4.67" fill="#fff" stroke="#111" stroke-width="0.95" transform="rotate(-12 104.56 74.66)"/>
<rect x="107.1" y="71.61" width="11.17" height="15.23" rx="5.14" fill="#fff" stroke="#111" stroke-width="0.95" transform="rotate(-12 112.68 79.22)"/>
<rect x="117.25" y="74.66" width="10.15" height="14.21" rx="4.67" fill="#fff" stroke="#111" stroke-width="0.95" transform="rotate(-12 122.32 81.76)"/>
<rect x="127.4" y="75.67" width="11.17" height="16.24" rx="5.14" fill="#fff" stroke="#111" stroke-width="0.95" transform="rotate(-12 132.98 83.79)"/>
<rect x="139.08" y="75.16" width="13.2" height="16.24" rx="6.07" fill="#fff" stroke="#111" stroke-width="0.95" transform="rotate(-12 145.67 83.28)"/>
<rect x="152.78" y="74.15" width="15.23" height="14.21" rx="6.54" fill="#fff" stroke="#111" stroke-width="0.95" transform="rotate(-12 160.4 81.25)"/>
<ellipse cx="152.3" cy="46.3" rx="27" ry="27" fill="url(#gg3)"/>
</g>
<g transform="translate(372.3 663.3) rotate(16.7)">
<rect x="0" y="-1.6" width="24" height="3.2" fill="#d8d8d8" stroke="#222" stroke-width="0.9"/>
<ellipse cx="0" cy="0" rx="2.4" ry="5.6" fill="#999" stroke="#222" stroke-width="1"/>
<rect x="24" y="-4.6" width="87" height="9.2" fill="#fff" stroke="#222" stroke-width="1"/>
<line x1="25" y1="-1.6" x2="100" y2="-1.6" stroke="#666" stroke-width="0.7"/>
<rect x="96" y="-4" width="14" height="8" fill="#cfe2f1"/>
<line x1="55.0" y1="2" x2="55.0" y2="4.2" stroke="#777" stroke-width="0.5"/>
<line x1="59.5" y1="2" x2="59.5" y2="4.2" stroke="#777" stroke-width="0.5"/>
<line x1="64.0" y1="2" x2="64.0" y2="4.2" stroke="#777" stroke-width="0.5"/>
<line x1="68.5" y1="2" x2="68.5" y2="4.2" stroke="#777" stroke-width="0.5"/>
<line x1="73.0" y1="2" x2="73.0" y2="4.2" stroke="#777" stroke-width="0.5"/>
<line x1="77.5" y1="2" x2="77.5" y2="4.2" stroke="#777" stroke-width="0.5"/>
<line x1="82.0" y1="2" x2="82.0" y2="4.2" stroke="#777" stroke-width="0.5"/>
<line x1="86.5" y1="2" x2="86.5" y2="4.2" stroke="#777" stroke-width="0.5"/>
<line x1="91.0" y1="2" x2="91.0" y2="4.2" stroke="#777" stroke-width="0.5"/>
<line x1="95.5" y1="2" x2="95.5" y2="4.2" stroke="#777" stroke-width="0.5"/>
<line x1="100.0" y1="2" x2="100.0" y2="4.2" stroke="#777" stroke-width="0.5"/>
<line x1="104.5" y1="2" x2="104.5" y2="4.2" stroke="#777" stroke-width="0.5"/>
<ellipse cx="24" cy="0" rx="3.6" ry="8.4" fill="#fff" stroke="#222" stroke-width="1"/>
<rect x="110" y="-5.2" width="8.5" height="10.4" rx="1.5" fill="#6a6c6f" stroke="#222" stroke-width="0.8"/>
<line x1="118" y1="0" x2="155.5" y2="0" stroke="#222" stroke-width="1.1"/>
</g>
<defs><radialGradient id="gg4" cx="0.5" cy="0.5" r="0.5"><stop offset="0" stop-color="#37a943" stop-opacity="0.95"/><stop offset="0.3" stop-color="#3fae49" stop-opacity="0.75"/><stop offset="0.65" stop-color="#6cc26f" stop-opacity="0.28"/><stop offset="1" stop-color="#a5dba5" stop-opacity="0"/></radialGradient></defs>
<g transform="translate(372.7 829.8)">
<rect x="124.35" y="15.77" width="8.12" height="9.14" rx="3.74" fill="#fff" stroke="#111" stroke-width="0.95" transform="rotate(-12 128.42 20.34)"/>
<rect x="132.48" y="13.49" width="8.12" height="9.64" rx="3.74" fill="#fff" stroke="#111" stroke-width="0.95" transform="rotate(-12 136.54 18.31)"/>
<rect x="142.12" y="11.96" width="11.17" height="9.64" rx="4.44" fill="#fff" stroke="#111" stroke-width="0.95" transform="rotate(-12 147.71 16.79)"/>
<rect x="154.81" y="11.46" width="14.21" height="9.64" rx="4.44" fill="#fff" stroke="#111" stroke-width="0.95" transform="rotate(-12 161.92 16.28)"/>
<rect x="170.55" y="15.26" width="9.14" height="11.17" rx="4.2" fill="#fff" stroke="#111" stroke-width="0.95" transform="rotate(-12 175.12 20.85)"/>
<rect x="126.39" y="26.94" width="7.11" height="9.14" rx="3.27" fill="#fff" stroke="#111" stroke-width="0.95" transform="rotate(-12 129.94 31.51)"/>
<rect x="135.52" y="24.91" width="8.12" height="11.17" rx="3.74" fill="#fff" stroke="#111" stroke-width="0.95" transform="rotate(-12 139.58 30.49)"/>
<rect x="144.66" y="23.39" width="11.17" height="12.18" rx="5.14" fill="#fff" stroke="#111" stroke-width="0.95" transform="rotate(-12 150.24 29.48)"/>
<rect x="157.86" y="22.88" width="12.18" height="13.2" rx="5.6" fill="#fff" stroke="#111" stroke-width="0.95" transform="rotate(-12 163.95 29.48)"/>
<rect x="173.09" y="27.95" width="10.15" height="15.23" rx="4.67" fill="#fff" stroke="#111" stroke-width="0.95" transform="rotate(-12 178.16 35.57)"/>
<rect x="106.59" y="38.11" width="6.09" height="8.12" rx="2.8" fill="#fff" stroke="#111" stroke-width="0.95" transform="rotate(-12 109.63 42.17)"/>
<rect x="113.19" y="39.12" width="6.09" height="10.15" rx="2.8" fill="#fff" stroke="#111" stroke-width="0.95" transform="rotate(-12 116.23 44.2)"/>
<rect x="119.79" y="39.12" width="7.11" height="12.18" rx="3.27" fill="#fff" stroke="#111" stroke-width="0.95" transform="rotate(-12 123.34 45.21)"/>
<rect x="126.89" y="39.63" width="8.12" height="14.21" rx="3.74" fill="#fff" stroke="#111" stroke-width="0.95" transform="rotate(-12 130.95 46.74)"/>
<rect x="136.03" y="38.61" width="9.14" height="16.24" rx="4.2" fill="#fff" stroke="#111" stroke-width="0.95" transform="rotate(-12 140.6 46.74)"/>
<rect x="146.18" y="39.63" width="11.17" height="15.23" rx="5.14" fill="#fff" stroke="#111" stroke-width="0.95" transform="rotate(-12 151.77 47.24)"/>
<rect x="158.36" y="38.61" width="13.2" height="16.24" rx="6.07" fill="#fff" stroke="#111" stroke-width="0.95" transform="rotate(-12 164.96 46.74)"/>
<rect x="174.61" y="45.72" width="10.15" height="17.26" rx="4.67" fill="#fff" stroke="#111" stroke-width="0.95" transform="rotate(-12 179.68 54.35)"/>
<rect x="102.02" y="47.75" width="7.11" height="11.17" rx="3.27" fill="#fff" stroke="#111" stroke-width="0.95" transform="rotate(-12 105.57 53.34)"/>
<rect x="108.62" y="51.81" width="8.12" height="13.2" rx="3.74" fill="#fff" stroke="#111" stroke-width="0.95" transform="rotate(-12 112.68 58.41)"/>
<rect x="115.22" y="53.84" width="8.12" height="15.23" rx="3.74" fill="#fff" stroke="#111" stroke-width="0.95" transform="rotate(-12 119.28 61.46)"/>
<rect x="123.34" y="56.38" width="9.14" height="16.24" rx="4.2" fill="#fff" stroke="#111" stroke-width="0.95" transform="rotate(-12 127.91 64.5)"/>
<rect x="132.48" y="56.89" width="10.15" height="17.26" rx="4.67" fill="#fff" stroke="#111" stroke-width="0.95" transform="rotate(-12 137.55 65.52)"/>
<rect x="143.14" y="57.4" width="11.17" height="16.24" rx="5.14" fill="#fff" stroke="#111" stroke-width="0.95" transform="rotate(-12 148.72 65.52)"/>
<rect x="156.33" y="56.89" width="14.21" height="15.23" rx="6.54" fill="#fff" stroke="#111" stroke-width="0.95" transform="rotate(-12 163.44 64.5)"/>
<rect x="171.06" y="64.5" width="12.18" height="14.21" rx="5.6" fill="#fff" stroke="#111" stroke-width="0.95" transform="rotate(-12 177.15 71.61)"/>
<rect x="92.38" y="60.44" width="10.15" height="16.24" rx="4.67" fill="#fff" stroke="#111" stroke-width="0.95" transform="rotate(-12 97.45 68.56)"/>
<rect x="99.48" y="66.53" width="10.15" height="16.24" rx="4.67" fill="#fff" stroke="#111" stroke-width="0.95" transform="rotate(-12 104.56 74.66)"/>
<rect x="107.1" y="71.61" width="11.17" height="15.23" rx="5.14" fill="#fff" stroke="#111" stroke-width="0.95" transform="rotate(-12 112.68 79.22)"/>
<rect x="117.25" y="74.66" width="10.15" height="14.21" rx="4.67" fill="#fff" stroke="#111" stroke-width="0.95" transform="rotate(-12 122.32 81.76)"/>
<rect x="127.4" y="75.67" width="11.17" height="16.24" rx="5.14" fill="#fff" stroke="#111" stroke-width="0.95" transform="rotate(-12 132.98 83.79)"/>
<rect x="139.08" y="75.16" width="13.2" height="16.24" rx="6.07" fill="#fff" stroke="#111" stroke-width="0.95" transform="rotate(-12 145.67 83.28)"/>
<rect x="152.78" y="74.15" width="15.23" height="14.21" rx="6.54" fill="#fff" stroke="#111" stroke-width="0.95" transform="rotate(-12 160.4 81.25)"/>
<ellipse cx="152.3" cy="46.3" rx="27" ry="27" fill="url(#gg4)"/>
</g>
<g transform="translate(372.7 829.8) rotate(16.7)">
<rect x="0" y="-1.6" width="24" height="3.2" fill="#d8d8d8" stroke="#222" stroke-width="0.9"/>
<ellipse cx="0" cy="0" rx="2.4" ry="5.6" fill="#999" stroke="#222" stroke-width="1"/>
<rect x="24" y="-4.6" width="87" height="9.2" fill="#fff" stroke="#222" stroke-width="1"/>
<line x1="25" y1="-1.6" x2="100" y2="-1.6" stroke="#666" stroke-width="0.7"/>
<rect x="96" y="-4" width="14" height="8" fill="#cfe2f1"/>
<line x1="55.0" y1="2" x2="55.0" y2="4.2" stroke="#777" stroke-width="0.5"/>
<line x1="59.5" y1="2" x2="59.5" y2="4.2" stroke="#777" stroke-width="0.5"/>
<line x1="64.0" y1="2" x2="64.0" y2="4.2" stroke="#777" stroke-width="0.5"/>
<line x1="68.5" y1="2" x2="68.5" y2="4.2" stroke="#777" stroke-width="0.5"/>
<line x1="73.0" y1="2" x2="73.0" y2="4.2" stroke="#777" stroke-width="0.5"/>
<line x1="77.5" y1="2" x2="77.5" y2="4.2" stroke="#777" stroke-width="0.5"/>
<line x1="82.0" y1="2" x2="82.0" y2="4.2" stroke="#777" stroke-width="0.5"/>
<line x1="86.5" y1="2" x2="86.5" y2="4.2" stroke="#777" stroke-width="0.5"/>
<line x1="91.0" y1="2" x2="91.0" y2="4.2" stroke="#777" stroke-width="0.5"/>
<line x1="95.5" y1="2" x2="95.5" y2="4.2" stroke="#777" stroke-width="0.5"/>
<line x1="100.0" y1="2" x2="100.0" y2="4.2" stroke="#777" stroke-width="0.5"/>
<line x1="104.5" y1="2" x2="104.5" y2="4.2" stroke="#777" stroke-width="0.5"/>
<ellipse cx="24" cy="0" rx="3.6" ry="8.4" fill="#fff" stroke="#222" stroke-width="1"/>
<rect x="110" y="-5.2" width="8.5" height="10.4" rx="1.5" fill="#6a6c6f" stroke="#222" stroke-width="0.8"/>
<line x1="118" y1="0" x2="155.5" y2="0" stroke="#222" stroke-width="1.1"/>
</g>
<defs><radialGradient id="gg5" cx="0.5" cy="0.5" r="0.5"><stop offset="0" stop-color="#37a943" stop-opacity="0.95"/><stop offset="0.3" stop-color="#3fae49" stop-opacity="0.75"/><stop offset="0.65" stop-color="#6cc26f" stop-opacity="0.28"/><stop offset="1" stop-color="#a5dba5" stop-opacity="0"/></radialGradient></defs>
<g transform="translate(372.7 997.2)">
<rect x="124.35" y="15.77" width="8.12" height="9.14" rx="3.74" fill="#fff" stroke="#111" stroke-width="0.95" transform="rotate(-12 128.42 20.34)"/>
<rect x="132.48" y="13.49" width="8.12" height="9.64" rx="3.74" fill="#fff" stroke="#111" stroke-width="0.95" transform="rotate(-12 136.54 18.31)"/>
<rect x="142.12" y="11.96" width="11.17" height="9.64" rx="4.44" fill="#fff" stroke="#111" stroke-width="0.95" transform="rotate(-12 147.71 16.79)"/>
<rect x="154.81" y="11.46" width="14.21" height="9.64" rx="4.44" fill="#fff" stroke="#111" stroke-width="0.95" transform="rotate(-12 161.92 16.28)"/>
<rect x="170.55" y="15.26" width="9.14" height="11.17" rx="4.2" fill="#fff" stroke="#111" stroke-width="0.95" transform="rotate(-12 175.12 20.85)"/>
<rect x="126.39" y="26.94" width="7.11" height="9.14" rx="3.27" fill="#fff" stroke="#111" stroke-width="0.95" transform="rotate(-12 129.94 31.51)"/>
<rect x="135.52" y="24.91" width="8.12" height="11.17" rx="3.74" fill="#fff" stroke="#111" stroke-width="0.95" transform="rotate(-12 139.58 30.49)"/>
<rect x="144.66" y="23.39" width="11.17" height="12.18" rx="5.14" fill="#fff" stroke="#111" stroke-width="0.95" transform="rotate(-12 150.24 29.48)"/>
<rect x="157.86" y="22.88" width="12.18" height="13.2" rx="5.6" fill="#fff" stroke="#111" stroke-width="0.95" transform="rotate(-12 163.95 29.48)"/>
<rect x="173.09" y="27.95" width="10.15" height="15.23" rx="4.67" fill="#fff" stroke="#111" stroke-width="0.95" transform="rotate(-12 178.16 35.57)"/>
<rect x="106.59" y="38.11" width="6.09" height="8.12" rx="2.8" fill="#fff" stroke="#111" stroke-width="0.95" transform="rotate(-12 109.63 42.17)"/>
<rect x="113.19" y="39.12" width="6.09" height="10.15" rx="2.8" fill="#fff" stroke="#111" stroke-width="0.95" transform="rotate(-12 116.23 44.2)"/>
<rect x="119.79" y="39.12" width="7.11" height="12.18" rx="3.27" fill="#fff" stroke="#111" stroke-width="0.95" transform="rotate(-12 123.34 45.21)"/>
<rect x="126.89" y="39.63" width="8.12" height="14.21" rx="3.74" fill="#fff" stroke="#111" stroke-width="0.95" transform="rotate(-12 130.95 46.74)"/>
<rect x="136.03" y="38.61" width="9.14" height="16.24" rx="4.2" fill="#fff" stroke="#111" stroke-width="0.95" transform="rotate(-12 140.6 46.74)"/>
<rect x="146.18" y="39.63" width="11.17" height="15.23" rx="5.14" fill="#fff" stroke="#111" stroke-width="0.95" transform="rotate(-12 151.77 47.24)"/>
<rect x="158.36" y="38.61" width="13.2" height="16.24" rx="6.07" fill="#fff" stroke="#111" stroke-width="0.95" transform="rotate(-12 164.96 46.74)"/>
<rect x="174.61" y="45.72" width="10.15" height="17.26" rx="4.67" fill="#fff" stroke="#111" stroke-width="0.95" transform="rotate(-12 179.68 54.35)"/>
<rect x="102.02" y="47.75" width="7.11" height="11.17" rx="3.27" fill="#fff" stroke="#111" stroke-width="0.95" transform="rotate(-12 105.57 53.34)"/>
<rect x="108.62" y="51.81" width="8.12" height="13.2" rx="3.74" fill="#fff" stroke="#111" stroke-width="0.95" transform="rotate(-12 112.68 58.41)"/>
<rect x="115.22" y="53.84" width="8.12" height="15.23" rx="3.74" fill="#fff" stroke="#111" stroke-width="0.95" transform="rotate(-12 119.28 61.46)"/>
<rect x="123.34" y="56.38" width="9.14" height="16.24" rx="4.2" fill="#fff" stroke="#111" stroke-width="0.95" transform="rotate(-12 127.91 64.5)"/>
<rect x="132.48" y="56.89" width="10.15" height="17.26" rx="4.67" fill="#fff" stroke="#111" stroke-width="0.95" transform="rotate(-12 137.55 65.52)"/>
<rect x="143.14" y="57.4" width="11.17" height="16.24" rx="5.14" fill="#fff" stroke="#111" stroke-width="0.95" transform="rotate(-12 148.72 65.52)"/>
<rect x="156.33" y="56.89" width="14.21" height="15.23" rx="6.54" fill="#fff" stroke="#111" stroke-width="0.95" transform="rotate(-12 163.44 64.5)"/>
<rect x="171.06" y="64.5" width="12.18" height="14.21" rx="5.6" fill="#fff" stroke="#111" stroke-width="0.95" transform="rotate(-12 177.15 71.61)"/>
<rect x="92.38" y="60.44" width="10.15" height="16.24" rx="4.67" fill="#fff" stroke="#111" stroke-width="0.95" transform="rotate(-12 97.45 68.56)"/>
<rect x="99.48" y="66.53" width="10.15" height="16.24" rx="4.67" fill="#fff" stroke="#111" stroke-width="0.95" transform="rotate(-12 104.56 74.66)"/>
<rect x="107.1" y="71.61" width="11.17" height="15.23" rx="5.14" fill="#fff" stroke="#111" stroke-width="0.95" transform="rotate(-12 112.68 79.22)"/>
<rect x="117.25" y="74.66" width="10.15" height="14.21" rx="4.67" fill="#fff" stroke="#111" stroke-width="0.95" transform="rotate(-12 122.32 81.76)"/>
<rect x="127.4" y="75.67" width="11.17" height="16.24" rx="5.14" fill="#fff" stroke="#111" stroke-width="0.95" transform="rotate(-12 132.98 83.79)"/>
<rect x="139.08" y="75.16" width="13.2" height="16.24" rx="6.07" fill="#fff" stroke="#111" stroke-width="0.95" transform="rotate(-12 145.67 83.28)"/>
<rect x="152.78" y="74.15" width="15.23" height="14.21" rx="6.54" fill="#fff" stroke="#111" stroke-width="0.95" transform="rotate(-12 160.4 81.25)"/>
<ellipse cx="152.3" cy="46.3" rx="27" ry="27" fill="url(#gg5)"/>
</g>
<g transform="translate(372.7 997.2) rotate(16.7)">
<rect x="0" y="-1.6" width="24" height="3.2" fill="#d8d8d8" stroke="#222" stroke-width="0.9"/>
<ellipse cx="0" cy="0" rx="2.4" ry="5.6" fill="#999" stroke="#222" stroke-width="1"/>
<rect x="24" y="-4.6" width="87" height="9.2" fill="#fff" stroke="#222" stroke-width="1"/>
<line x1="25" y1="-1.6" x2="100" y2="-1.6" stroke="#666" stroke-width="0.7"/>
<rect x="96" y="-4" width="14" height="8" fill="#cfe2f1"/>
<line x1="55.0" y1="2" x2="55.0" y2="4.2" stroke="#777" stroke-width="0.5"/>
<line x1="59.5" y1="2" x2="59.5" y2="4.2" stroke="#777" stroke-width="0.5"/>
<line x1="64.0" y1="2" x2="64.0" y2="4.2" stroke="#777" stroke-width="0.5"/>
<line x1="68.5" y1="2" x2="68.5" y2="4.2" stroke="#777" stroke-width="0.5"/>
<line x1="73.0" y1="2" x2="73.0" y2="4.2" stroke="#777" stroke-width="0.5"/>
<line x1="77.5" y1="2" x2="77.5" y2="4.2" stroke="#777" stroke-width="0.5"/>
<line x1="82.0" y1="2" x2="82.0" y2="4.2" stroke="#777" stroke-width="0.5"/>
<line x1="86.5" y1="2" x2="86.5" y2="4.2" stroke="#777" stroke-width="0.5"/>
<line x1="91.0" y1="2" x2="91.0" y2="4.2" stroke="#777" stroke-width="0.5"/>
<line x1="95.5" y1="2" x2="95.5" y2="4.2" stroke="#777" stroke-width="0.5"/>
<line x1="100.0" y1="2" x2="100.0" y2="4.2" stroke="#777" stroke-width="0.5"/>
<line x1="104.5" y1="2" x2="104.5" y2="4.2" stroke="#777" stroke-width="0.5"/>
<ellipse cx="24" cy="0" rx="3.6" ry="8.4" fill="#fff" stroke="#222" stroke-width="1"/>
<rect x="110" y="-5.2" width="8.5" height="10.4" rx="1.5" fill="#6a6c6f" stroke="#222" stroke-width="0.8"/>
<line x1="118" y1="0" x2="155.5" y2="0" stroke="#222" stroke-width="1.1"/>
</g>
<text x="776.25" y="364" font-size="30.6" fill="#000" stroke="#000">3d</text>
<text x="603.35" y="363.7" font-size="31" fill="#000" stroke="#000">~14d</text>
<text x="776.25" y="530" font-size="30.6" fill="#000" stroke="#000">3d</text>
<text x="776.25" y="700" font-size="30.6" fill="#000" stroke="#000">3d</text>
<text x="776.25" y="1035" font-size="30.6" fill="#000" stroke="#000">3d</text>
<text x="705.75" y="284.5" font-size="29.5" fill="#000" stroke="#000">Water</text>
<text x="673.5" y="316.8" font-size="29.5" fill="#000" stroke="#000">Restriction</text>
<text x="869.8" y="319.7" font-size="29.5" fill="#000" stroke="#000">Licking</text>
<text x="991.75" y="319.7" font-size="29.5" fill="#1370bd" stroke="#1370bd">Whisker Training</text>
<text x="919.75" y="222.6" font-size="28.3" fill="#ef7d1a" stroke="#ef7d1a">Performance ≥ 75%</text>
<text x="879.15" y="256.8" font-size="28.3" fill="#ef7d1a" stroke="#ef7d1a">for Two Consecutive Days</text>
<text x="1296.5" y="284" font-size="29.5" fill="#d52b2f" stroke="#d52b2f">Memory</text>
<text x="1292.5" y="318" font-size="29.5" fill="#d52b2f" stroke="#d52b2f">Retrieval</text>
<text x="1411.75" y="284" font-size="29.5" fill="#bb55dd" stroke="#bb55dd">Optogenetic</text>
<text x="1422.75" y="318" font-size="29.5" fill="#bb55dd" stroke="#bb55dd">Stimulation</text>
<text x="1274.25" y="366" font-size="31" fill="#000" stroke="#000">48h</text>
<text x="1356.5" y="366" font-size="31" fill="#000" stroke="#000">24h</text>
<text x="1551.5" y="405" font-size="30.3" fill="#000" stroke="#000">Sac.</text>
<text x="1273.95" y="534.5" font-size="31" fill="#000" stroke="#000">48h</text>
<text x="1356.5" y="534.5" font-size="31" fill="#000" stroke="#000">24h</text>
<text x="1296.5" y="453" font-size="29.5" fill="#d52b2f" stroke="#d52b2f">Memory</text>
<text x="1292.3" y="488" font-size="29.5" fill="#d52b2f" stroke="#d52b2f">Retrieval</text>
<text x="1550.5" y="572.4" font-size="30.3" fill="#000" stroke="#000">Sac.</text>
<text x="1010.75" y="701.8" font-size="31" fill="#000" stroke="#000">48h</text>
<text x="1093.5" y="701.8" font-size="31" fill="#000" stroke="#000">24h</text>
<text x="1033.75" y="623.3" font-size="29.5" fill="#1ba75f" stroke="#1ba75f">Whisker</text>
<text x="1019.9" y="658" font-size="29.5" fill="#1ba75f" stroke="#1ba75f">Deflection</text>
<text x="1551.5" y="741" font-size="30.3" fill="#000" stroke="#000">Sac.</text>
<text x="1042.9" y="817.5" font-size="29.5" fill="#000" stroke="#000">Licking</text>
<text x="1553.5" y="909.5" font-size="30.3" fill="#000" stroke="#000">Sac.</text>
<text x="1009.95" y="1036.8" font-size="31" fill="#000" stroke="#000">48h</text>
<text x="1093.5" y="1036.8" font-size="31" fill="#000" stroke="#000">24h</text>
<text x="1006.5" y="958" font-size="29.5" fill="#1a74e6" stroke="#1a74e6">Home Cage</text>
<text x="1049" y="993" font-size="29.5" fill="#1a74e6" stroke="#1a74e6">Label</text>
<text x="1550.5" y="1076.4" font-size="30.3" fill="#000" stroke="#000">Sac.</text>
<line x1="1237.6" y1="325.4" x2="1219" y2="284" stroke="#f08a1f" stroke-width="4.3"/>
<polygon points="1209.4,263 1210.2,289.6 1228.8,281.2" fill="#f08a1f" stroke="none" stroke-width="0"/>
<text x="1222.25" y="21" font-size="23" fill="#d52b2f" stroke="#d52b2f">Memory Retrieval</text>
<text x="1475" y="21" font-size="23" fill="#bb55dd" stroke="#bb55dd">Optogenetic Transfer</text>
<text x="1274" y="204" font-size="22.3" fill="#e0262b" stroke="#e0262b">C2 stim.</text>
<line x1="1151" y1="51" x2="1297" y2="332" stroke="#000" stroke-width="2.6" stroke-dasharray="11 8"/>
<line x1="1714" y1="51" x2="1568" y2="332" stroke="#000" stroke-width="2.6" stroke-dasharray="11 8"/>
<g transform="translate(0 0)">
<defs><linearGradient id="tubeg0" x1="0" y1="0" x2="0" y2="1"><stop offset="0" stop-color="#fff"/><stop offset="0.55" stop-color="#f7f7f7"/><stop offset="0.85" stop-color="#e0e0e0"/><stop offset="1" stop-color="#eeeeee"/></linearGradient><linearGradient id="tubeh0" x1="0" y1="0" x2="1" y2="0"><stop offset="0" stop-color="#fff" stop-opacity="1"/><stop offset="0.25" stop-color="#fff" stop-opacity="1"/><stop offset="0.7" stop-color="#fff" stop-opacity="0"/></linearGradient></defs>
<path d="M1218,80 L1316,76.5 L1338,172 L1218,163 Z" fill="url(#tubeg0)"/>
<path d="M1210,78 L1290,78 L1290,170 L1210,170 Z" fill="url(#tubeh0)"/>
<path d="M1230,81 L1316,76.8" stroke="#222" stroke-width="1.6" fill="none"/>
<path d="M1222,162.5 L1330,169.5" stroke="#222" stroke-width="1.6" fill="none"/>
<ellipse cx="1325.5" cy="124.5" rx="29.5" ry="49" transform="rotate(-16 1325.5 124.5)" fill="#ececec" stroke="#111" stroke-width="2.6"/>
<ellipse cx="1325.5" cy="124.5" rx="26" ry="45.5" transform="rotate(-16 1325.5 124.5)" fill="#f2f2f2" stroke="#111" stroke-width="1"/>
<ellipse cx="1287.3" cy="97.9" rx="13.3" ry="16.9" transform="rotate(-10 1287.3 97.9)" fill="#c99e9a" stroke="#5a4040" stroke-width="1"/>
<ellipse cx="1289" cy="100" rx="8" ry="11" transform="rotate(-10 1289 100)" fill="#e4c2be"/>
<path d="M1300.6,90.4 C1306,86 1312,86 1315,86.8 C1322,89 1326,92 1329.4,94.7 C1340,97 1346,99 1351,103.3 C1357,108 1360,112 1362.5,116.3 C1365,121 1367,125 1367.5,129.2 C1367,133 1366,135 1365.3,136.4 C1362,138 1360,139 1358.2,139.3 C1352,142 1348,144 1343.8,145 C1337,147 1331,149 1325.1,149.3 L1309.3,149.3 C1304,146 1302,143 1300.6,139.3 C1298,132 1297,125 1297.8,119.1 C1297.5,112 1298,106 1299.2,101.9 Z" fill="#3a3032" stroke="#1c1718" stroke-width="1"/>
<ellipse cx="1346.5" cy="86.4" rx="10" ry="12" fill="#c99e9a" stroke="#5a4040" stroke-width="1"/>
<ellipse cx="1347" cy="87.5" rx="6" ry="7.5" fill="#e4c2be"/>
<defs><linearGradient id="barg0" gradientUnits="userSpaceOnUse" x1="1245" y1="0" x2="1402" y2="0"><stop offset="0" stop-color="#b4c5d3" stop-opacity="0.15"/><stop offset="0.18" stop-color="#b4c5d3" stop-opacity="1"/><stop offset="0.85" stop-color="#b4c5d3" stop-opacity="1"/><stop offset="1" stop-color="#b4c5d3" stop-opacity="0.2"/></linearGradient><linearGradient id="bars0" gradientUnits="userSpaceOnUse" x1="1245" y1="0" x2="1402" y2="0"><stop offset="0" stop-color="#7d90a0" stop-opacity="0.1"/><stop offset="0.18" stop-color="#7d90a0" stop-opacity="1"/><stop offset="0.85" stop-color="#7d90a0" stop-opacity="1"/><stop offset="1" stop-color="#7d90a0" stop-opacity="0.15"/></linearGradient></defs>
<path d="M1245,110 L1400,71 L1402,78.5 L1248,118.5 Z" fill="url(#barg0)" stroke="url(#bars0)" stroke-width="0.8"/>
<path d="M1246,114 L1401,75" stroke="url(#bars0)" stroke-width="1"/>
<path d="M1316,96 C1318,90 1328,89 1336,91 C1344,93 1349,97 1348.5,103 C1348,107 1343,108 1338,107 C1334,109 1331,114 1325,113.5 C1319,113 1315,108 1315.5,103 Z" fill="#fafafa" stroke="#888" stroke-width="0.9"/>
<ellipse cx="1334" cy="99.5" rx="6" ry="3.2" transform="rotate(10 1334 99.5)" fill="#e6e6e6" stroke="#777" stroke-width="0.8"/>
<circle cx="1333.7" cy="116.3" r="4.8" fill="#000"/><circle cx="1335" cy="115" r="1.4" fill="#fff"/>
<circle cx="1356" cy="110.5" r="3.6" fill="#000"/><circle cx="1357" cy="109.5" r="1" fill="#fff"/>
<path d="M1364,131 Q1371.85,122.7 1379.7,118.4" stroke="#555" stroke-width="0.8" fill="none"/>
<path d="M1364,131 Q1377.6,125.1 1391.2,123.2" stroke="#555" stroke-width="0.8" fill="none"/>
<path d="M1364,131 Q1378,128.5 1392,130" stroke="#555" stroke-width="0.8" fill="none"/>
<path d="M1364,131 Q1374,131.7 1384,136.4" stroke="#555" stroke-width="0.8" fill="none"/>
<path d="M1364,131 Q1369.7,133.85 1375.4,140.7" stroke="#555" stroke-width="0.8" fill="none"/>
<path d="M1350,138 L1330,132" stroke="#111" stroke-width="0.8" fill="none"/>
<path d="M1350,138 L1327,137" stroke="#111" stroke-width="0.8" fill="none"/>
<path d="M1350,138 L1332,142" stroke="#111" stroke-width="0.8" fill="none"/>
<path d="M1359.6,146.2 L1395.5,154.8 L1394.5,158.2 L1358.6,149.6 Z" fill="#9fa9b1" stroke="#6f7a83" stroke-width="0.6"/>
<path d="M1352,143 C1356,146 1357,152 1356,158 C1354,160 1351,159 1351,154 Z" fill="#e2a3ab" stroke="#a06068" stroke-width="0.6"/>
<path d="M1357,154 L1360,160 L1357,162 L1355,158 Z" fill="#b9d7ec"/>
<path d="M1312,152 C1320,150 1332,152 1338,156 C1330,160 1318,161 1310,158 Z" fill="#f0e4e2" stroke="#9a8a88" stroke-width="0.6"/>
<path d="M1290.6,170.9 L1335.2,140.7" stroke="#9b4fd6" stroke-width="3.2" fill="none"/>
<path d="M1290.6,170.9 L1335.2,140.7" stroke="#f3e6fb" stroke-width="1.2" fill="none"/>
<path d="M1297.8,160 L1297.8,171" stroke="#e0262b" stroke-width="2"/>
<path d="M1297.8,154.5 L1293.8,161 L1301.8,161 Z M1297.8,176.5 L1293.8,170 L1301.8,170 Z" fill="#e0262b"/>
</g>
<g transform="translate(249 0)">
<defs><linearGradient id="tubeg249" x1="0" y1="0" x2="0" y2="1"><stop offset="0" stop-color="#fff"/><stop offset="0.55" stop-color="#f7f7f7"/><stop offset="0.85" stop-color="#e0e0e0"/><stop offset="1" stop-color="#eeeeee"/></linearGradient><linearGradient id="tubeh249" x1="0" y1="0" x2="1" y2="0"><stop offset="0" stop-color="#fff" stop-opacity="1"/><stop offset="0.25" stop-color="#fff" stop-opacity="1"/><stop offset="0.7" stop-color="#fff" stop-opacity="0"/></linearGradient></defs>
<path d="M1218,80 L1316,76.5 L1338,172 L1218,163 Z" fill="url(#tubeg249)"/>
<path d="M1210,78 L1290,78 L1290,170 L1210,170 Z" fill="url(#tubeh249)"/>
<path d="M1230,81 L1316,76.8" stroke="#222" stroke-width="1.6" fill="none"/>
<path d="M1222,162.5 L1330,169.5" stroke="#222" stroke-width="1.6" fill="none"/>
<ellipse cx="1325.5" cy="124.5" rx="29.5" ry="49" transform="rotate(-16 1325.5 124.5)" fill="#ececec" stroke="#111" stroke-width="2.6"/>
<ellipse cx="1325.5" cy="124.5" rx="26" ry="45.5" transform="rotate(-16 1325.5 124.5)" fill="#f2f2f2" stroke="#111" stroke-width="1"/>
<ellipse cx="1287.3" cy="97.9" rx="13.3" ry="16.9" transform="rotate(-10 1287.3 97.9)" fill="#c99e9a" stroke="#5a4040" stroke-width="1"/>
<ellipse cx="1289" cy="100" rx="8" ry="11" transform="rotate(-10 1289 100)" fill="#e4c2be"/>
<path d="M1300.6,90.4 C1306,86 1312,86 1315,86.8 C1322,89 1326,92 1329.4,94.7 C1340,97 1346,99 1351,103.3 C1357,108 1360,112 1362.5,116.3 C1365,121 1367,125 1367.5,129.2 C1367,133 1366,135 1365.3,136.4 C1362,138 1360,139 1358.2,139.3 C1352,142 1348,144 1343.8,145 C1337,147 1331,149 1325.1,149.3 L1309.3,149.3 C1304,146 1302,143 1300.6,139.3 C1298,132 1297,125 1297.8,119.1 C1297.5,112 1298,106 1299.2,101.9 Z" fill="#3a3032" stroke="#1c1718" stroke-width="1"/>
<ellipse cx="1346.5" cy="86.4" rx="10" ry="12" fill="#c99e9a" stroke="#5a4040" stroke-width="1"/>
<ellipse cx="1347" cy="87.5" rx="6" ry="7.5" fill="#e4c2be"/>
<defs><linearGradient id="barg249" gradientUnits="userSpaceOnUse" x1="1245" y1="0" x2="1402" y2="0"><stop offset="0" stop-color="#b4c5d3" stop-opacity="0.15"/><stop offset="0.18" stop-color="#b4c5d3" stop-opacity="1"/><stop offset="0.85" stop-color="#b4c5d3" stop-opacity="1"/><stop offset="1" stop-color="#b4c5d3" stop-opacity="0.2"/></linearGradient><linearGradient id="bars249" gradientUnits="userSpaceOnUse" x1="1245" y1="0" x2="1402" y2="0"><stop offset="0" stop-color="#7d90a0" stop-opacity="0.1"/><stop offset="0.18" stop-color="#7d90a0" stop-opacity="1"/><stop offset="0.85" stop-color="#7d90a0" stop-opacity="1"/><stop offset="1" stop-color="#7d90a0" stop-opacity="0.15"/></linearGradient></defs>
<path d="M1245,110 L1400,71 L1402,78.5 L1248,118.5 Z" fill="url(#barg249)" stroke="url(#bars249)" stroke-width="0.8"/>
<path d="M1246,114 L1401,75" stroke="url(#bars249)" stroke-width="1"/>
<path d="M1316,96 C1318,90 1328,89 1336,91 C1344,93 1349,97 1348.5,103 C1348,107 1343,108 1338,107 C1334,109 1331,114 1325,113.5 C1319,113 1315,108 1315.5,103 Z" fill="#fafafa" stroke="#888" stroke-width="0.9"/>
<ellipse cx="1334" cy="99.5" rx="6" ry="3.2" transform="rotate(10 1334 99.5)" fill="#e6e6e6" stroke="#777" stroke-width="0.8"/>
<circle cx="1333.7" cy="116.3" r="4.8" fill="#000"/><circle cx="1335" cy="115" r="1.4" fill="#fff"/>
<circle cx="1356" cy="110.5" r="3.6" fill="#000"/><circle cx="1357" cy="109.5" r="1" fill="#fff"/>
<path d="M1364,131 Q1371.85,122.7 1379.7,118.4" stroke="#555" stroke-width="0.8" fill="none"/>
<path d="M1364,131 Q1377.6,125.1 1391.2,123.2" stroke="#555" stroke-width="0.8" fill="none"/>
<path d="M1364,131 Q1378,128.5 1392,130" stroke="#555" stroke-width="0.8" fill="none"/>
<path d="M1364,131 Q1374,131.7 1384,136.4" stroke="#555" stroke-width="0.8" fill="none"/>
<path d="M1364,131 Q1369.7,133.85 1375.4,140.7" stroke="#555" stroke-width="0.8" fill="none"/>
<path d="M1350,138 L1330,132" stroke="#111" stroke-width="0.8" fill="none"/>
<path d="M1350,138 L1327,137" stroke="#111" stroke-width="0.8" fill="none"/>
<path d="M1350,138 L1332,142" stroke="#111" stroke-width="0.8" fill="none"/>
<path d="M1359.6,146.2 L1395.5,154.8 L1394.5,158.2 L1358.6,149.6 Z" fill="#9fa9b1" stroke="#6f7a83" stroke-width="0.6"/>
<path d="M1352,143 C1356,146 1357,152 1356,158 C1354,160 1351,159 1351,154 Z" fill="#e2a3ab" stroke="#a06068" stroke-width="0.6"/>
<path d="M1357,154 L1360,160 L1357,162 L1355,158 Z" fill="#b9d7ec"/>
<path d="M1312,152 C1320,150 1332,152 1338,156 C1330,160 1318,161 1310,158 Z" fill="#f0e4e2" stroke="#9a8a88" stroke-width="0.6"/>
<rect x="1331.5" y="37.3" width="10" height="28.4" rx="1.5" fill="#4a4a4c"/>
<rect x="1334.6" y="65.7" width="3.8" height="34" fill="#2ec3e8"/>
<ellipse cx="1336.5" cy="100" rx="5" ry="2.5" fill="#9fe2f3"/>
</g>
<line x1="1424.8" y1="133.2" x2="1458" y2="133.2" stroke="#000" stroke-width="2.5"/>
<polygon points="1475.6,133.2 1450.4,122.3 1456,133.2 1450.4,144" fill="#000" stroke="none" stroke-width="0"/>
<line x1="1887" y1="135.5" x2="1887" y2="681" stroke="#141213" stroke-width="2.6"/>
<line x1="1863.5" y1="678.7" x2="1887" y2="678.7" stroke="#141213" stroke-width="2.6"/>
<text x="1833.25" y="693.2" font-size="36" fill="#141213" stroke="#141213">0</text>
<line x1="1863.5" y1="543.4" x2="1887" y2="543.4" stroke="#141213" stroke-width="2.6"/>
<text x="1813.25" y="557.9" font-size="36" fill="#141213" stroke="#141213">20</text>
<line x1="1863.5" y1="408.1" x2="1887" y2="408.1" stroke="#141213" stroke-width="2.6"/>
<text x="1813.25" y="422.6" font-size="36" fill="#141213" stroke="#141213">40</text>
<line x1="1863.5" y1="272.8" x2="1887" y2="272.8" stroke="#141213" stroke-width="2.6"/>
<text x="1813.25" y="287.3" font-size="36" fill="#141213" stroke="#141213">60</text>
<line x1="1863.5" y1="137.5" x2="1887" y2="137.5" stroke="#141213" stroke-width="2.6"/>
<text x="1813.25" y="152" font-size="36" fill="#141213" stroke="#141213">80</text>
<line x1="1863.5" y1="678.7" x2="2432" y2="678.7" stroke="#141213" stroke-width="2.8"/>
<line x1="1954.2" y1="678.7" x2="1954.2" y2="702" stroke="#141213" stroke-width="2.6"/>
<line x1="2055.6" y1="678.7" x2="2055.6" y2="702" stroke="#141213" stroke-width="2.6"/>
<line x1="2157.3" y1="678.7" x2="2157.3" y2="702" stroke="#141213" stroke-width="2.6"/>
<line x1="2258.7" y1="678.7" x2="2258.7" y2="702" stroke="#141213" stroke-width="2.6"/>
<line x1="2360.2" y1="678.7" x2="2360.2" y2="702" stroke="#141213" stroke-width="2.6"/>
<rect x="1920.2" y="422.98" width="68" height="255.72" fill="#f9a2a2" stroke="none" stroke-width="0"/>
<rect x="2021.6" y="633.6" width="68" height="45.1" fill="#a7a8ab" stroke="none" stroke-width="0"/>
<rect x="2123.3" y="589.2" width="68" height="89.5" fill="#10bf78" stroke="none" stroke-width="0"/>
<rect x="2224.7" y="628.3" width="68" height="50.4" fill="#c8984f" stroke="none" stroke-width="0"/>
<rect x="2326.2" y="612.5" width="68" height="66.2" fill="#8fbff6" stroke="none" stroke-width="0"/>
<line x1="1954.2" y1="399.7" x2="1954.2" y2="422" stroke="#f4a3a3" stroke-width="2.4"/>
<line x1="1936.5" y1="399.7" x2="1971.5" y2="399.7" stroke="#f4a3a3" stroke-width="2.4"/>
<circle cx="1954.4" cy="283.1" r="6.3" fill="#d9272e" stroke="none" stroke-width="0"/>
<circle cx="1944.7" cy="318.5" r="6.3" fill="#d9272e" stroke="none" stroke-width="0"/>
<circle cx="1964" cy="326" r="6.3" fill="#d9272e" stroke="none" stroke-width="0"/>
<circle cx="1944.7" cy="341.2" r="6.3" fill="#d9272e" stroke="none" stroke-width="0"/>
<circle cx="1964" cy="343" r="6.3" fill="#d9272e" stroke="none" stroke-width="0"/>
<circle cx="1954.4" cy="360.6" r="6.3" fill="#d9272e" stroke="none" stroke-width="0"/>
<circle cx="1944.7" cy="400.8" r="6.3" fill="#d9272e" stroke="none" stroke-width="0"/>
<circle cx="1964" cy="394" r="6.3" fill="#d9272e" stroke="none" stroke-width="0"/>
<circle cx="1926" cy="413.8" r="6.3" fill="#d9272e" stroke="none" stroke-width="0"/>
<circle cx="1944.7" cy="425" r="6.3" fill="#d9272e" stroke="none" stroke-width="0"/>
<circle cx="1964" cy="422" r="6.3" fill="#d9272e" stroke="none" stroke-width="0"/>
<circle cx="1982.7" cy="425" r="6.3" fill="#d9272e" stroke="none" stroke-width="0"/>
<circle cx="1954.4" cy="491" r="6.3" fill="#d9272e" stroke="none" stroke-width="0"/>
<circle cx="1944.7" cy="511.4" r="6.3" fill="#d9272e" stroke="none" stroke-width="0"/>
<circle cx="1964" cy="510.3" r="6.3" fill="#d9272e" stroke="none" stroke-width="0"/>
<circle cx="1954.4" cy="581" r="6.3" fill="#d9272e" stroke="none" stroke-width="0"/>
<circle cx="1954.4" cy="634.3" r="6.3" fill="#d9272e" stroke="none" stroke-width="0"/>
<line x1="2055.6" y1="625" x2="2055.6" y2="633.6" stroke="#9a9a9a" stroke-width="2.4"/>
<line x1="2038.5" y1="625" x2="2073" y2="625" stroke="#9a9a9a" stroke-width="2.4"/>
<circle cx="2034" cy="610" r="6.3" fill="#000" stroke="none" stroke-width="0"/>
<circle cx="2056.4" cy="600.8" r="6.3" fill="#000" stroke="none" stroke-width="0"/>
<circle cx="2077.6" cy="599.7" r="6.3" fill="#000" stroke="none" stroke-width="0"/>
<circle cx="2056.4" cy="617.5" r="6.3" fill="#000" stroke="none" stroke-width="0"/>
<circle cx="2034" cy="640.6" r="6.3" fill="#000" stroke="none" stroke-width="0"/>
<circle cx="2056.4" cy="631.7" r="6.3" fill="#000" stroke="none" stroke-width="0"/>
<circle cx="2077.6" cy="640.6" r="6.3" fill="#000" stroke="none" stroke-width="0"/>
<circle cx="2056.4" cy="655.5" r="6.3" fill="#000" stroke="none" stroke-width="0"/>
<circle cx="2034" cy="671.5" r="6.3" fill="#000" stroke="none" stroke-width="0"/>
<circle cx="2077.6" cy="663" r="6.3" fill="#000" stroke="none" stroke-width="0"/>
<circle cx="2157.7" cy="520.9" r="6.5" fill="#0c7a17" stroke="none" stroke-width="0"/>
<circle cx="2146.5" cy="570.2" r="6.5" fill="#0c7a17" stroke="none" stroke-width="0"/>
<circle cx="2168.5" cy="566.5" r="6.5" fill="#0c7a17" stroke="none" stroke-width="0"/>
<circle cx="2168.5" cy="579.6" r="6.5" fill="#0c7a17" stroke="none" stroke-width="0"/>
<circle cx="2157.7" cy="597.2" r="6.5" fill="#0c7a17" stroke="none" stroke-width="0"/>
<circle cx="2157.7" cy="620.9" r="6.5" fill="#0c7a17" stroke="none" stroke-width="0"/>
<circle cx="2157.7" cy="665.2" r="6.5" fill="#0c7a17" stroke="none" stroke-width="0"/>
<line x1="2157.5" y1="571.6" x2="2157.5" y2="606.5" stroke="#0c7a17" stroke-width="2.6"/>
<line x1="2140" y1="571.6" x2="2175.5" y2="571.6" stroke="#0c7a17" stroke-width="2.6"/>
<line x1="2140" y1="606.5" x2="2175.5" y2="606.5" stroke="#0c7a17" stroke-width="2.6"/>
<circle cx="2259.1" cy="592.6" r="6.5" fill="#a26b22" stroke="none" stroke-width="0"/>
<circle cx="2259.1" cy="606.5" r="6.5" fill="#a26b22" stroke="none" stroke-width="0"/>
<circle cx="2248" cy="619.6" r="6.5" fill="#a26b22" stroke="none" stroke-width="0"/>
<circle cx="2269.9" cy="629.4" r="6.5" fill="#a26b22" stroke="none" stroke-width="0"/>
<circle cx="2259.1" cy="643.4" r="6.5" fill="#a26b22" stroke="none" stroke-width="0"/>
<circle cx="2237.3" cy="651.2" r="6.5" fill="#a26b22" stroke="none" stroke-width="0"/>
<circle cx="2280.5" cy="651.2" r="6.5" fill="#a26b22" stroke="none" stroke-width="0"/>
<line x1="2259" y1="619.2" x2="2259" y2="636.7" stroke="#a26b22" stroke-width="2.6"/>
<line x1="2241.8" y1="619.2" x2="2276.4" y2="619.2" stroke="#a26b22" stroke-width="2.6"/>
<line x1="2241.8" y1="636.7" x2="2276.4" y2="636.7" stroke="#a26b22" stroke-width="2.6"/>
<circle cx="2349.7" cy="586" r="6.5" fill="#1a7cf0" stroke="none" stroke-width="0"/>
<circle cx="2371.7" cy="586" r="6.5" fill="#1a7cf0" stroke="none" stroke-width="0"/>
<circle cx="2360.5" cy="607.1" r="6.5" fill="#1a7cf0" stroke="none" stroke-width="0"/>
<circle cx="2349.7" cy="621.4" r="6.5" fill="#1a7cf0" stroke="none" stroke-width="0"/>
<circle cx="2371.7" cy="629.8" r="6.5" fill="#1a7cf0" stroke="none" stroke-width="0"/>
<circle cx="2360.5" cy="642.8" r="6.5" fill="#1a7cf0" stroke="none" stroke-width="0"/>
<line x1="2360.5" y1="602.4" x2="2360.5" y2="622" stroke="#1a7cf0" stroke-width="2.6"/>
<line x1="2342.8" y1="602.4" x2="2378.6" y2="602.4" stroke="#1a7cf0" stroke-width="2.6"/>
<line x1="2342.8" y1="622" x2="2378.6" y2="622" stroke="#1a7cf0" stroke-width="2.6"/>
<polyline points="1956.2,257.4 1956.2,184.8 2208,184.8 2208,492.7" fill="none" stroke="#141213" stroke-width="2.6"/>
<line x1="2025" y1="492.7" x2="2394" y2="492.7" stroke="#141213" stroke-width="2.6"/>
<text x="2036.4" y="183.05" font-size="52" font-weight="bold" fill="#000" stroke="#000">*</text>
<text x="2061.3" y="183.05" font-size="52" font-weight="bold" fill="#000" stroke="#000">*</text>
<text x="2086.2" y="183.05" font-size="52" font-weight="bold" fill="#000" stroke="#000">*</text>
<text x="2111.1" y="183.05" font-size="52" font-weight="bold" fill="#000" stroke="#000">*</text>
<text x="1684.75" y="415.25" font-size="35.6" fill="#141213" stroke="#141213" transform="rotate(-90 1775 406)">Hit rate (%)</text>
<text x="1788.03" y="911.43" font-size="36.4" fill="#141213" stroke="#141213" transform="rotate(-45 1788.03 911.43)">Retrieval-ChR2</text>
<text x="1885.81" y="913.26" font-size="36.4" fill="#141213" stroke="#141213" transform="rotate(-45 1885.81 913.26)">Retrieval-EGFP</text>
<text x="1938.62" y="952.14" font-size="36.4" fill="#141213" stroke="#141213" transform="rotate(-45 1938.62 952.14)">Whisker Deflection</text>
<text x="2066.53" y="932.93" font-size="36.4" fill="#141213" stroke="#141213" transform="rotate(-45 2066.53 932.93)">Random Labeled</text>
<text x="2238.08" y="864.15" font-size="36.4" fill="#141213" stroke="#141213" transform="rotate(-45 2238.08 864.15)">Home Cage</text>
<line x1="2590.3" y1="133" x2="2590.3" y2="681" stroke="#141213" stroke-width="2.6"/>
<line x1="2572.5" y1="678.7" x2="2590.3" y2="678.7" stroke="#141213" stroke-width="2.6"/>
<text x="2539.65" y="694.2" font-size="36" fill="#141213" stroke="#141213">0</text>
<line x1="2572.5" y1="542.7" x2="2590.3" y2="542.7" stroke="#141213" stroke-width="2.6"/>
<text x="2519.65" y="558.2" font-size="36" fill="#141213" stroke="#141213">20</text>
<line x1="2572.5" y1="406.7" x2="2590.3" y2="406.7" stroke="#141213" stroke-width="2.6"/>
<text x="2519.65" y="422.2" font-size="36" fill="#141213" stroke="#141213">40</text>
<line x1="2572.5" y1="270.7" x2="2590.3" y2="270.7" stroke="#141213" stroke-width="2.6"/>
<text x="2519.65" y="286.2" font-size="36" fill="#141213" stroke="#141213">60</text>
<line x1="2572.5" y1="134.7" x2="2590.3" y2="134.7" stroke="#141213" stroke-width="2.6"/>
<text x="2519.65" y="150.2" font-size="36" fill="#141213" stroke="#141213">80</text>
<line x1="2572.5" y1="678.7" x2="4061" y2="678.7" stroke="#141213" stroke-width="2.8"/>
<line x1="2693" y1="678.7" x2="2693" y2="696.5" stroke="#141213" stroke-width="2.6"/>
<line x1="2848.7" y1="678.7" x2="2848.7" y2="696.5" stroke="#141213" stroke-width="2.6"/>
<line x1="2968.8" y1="678.7" x2="2968.8" y2="696.5" stroke="#141213" stroke-width="2.6"/>
<line x1="3124" y1="678.7" x2="3124" y2="696.5" stroke="#141213" stroke-width="2.6"/>
<line x1="3245.2" y1="678.7" x2="3245.2" y2="696.5" stroke="#141213" stroke-width="2.6"/>
<line x1="3400.4" y1="678.7" x2="3400.4" y2="696.5" stroke="#141213" stroke-width="2.6"/>
<line x1="3520.8" y1="678.7" x2="3520.8" y2="696.5" stroke="#141213" stroke-width="2.6"/>
<line x1="3675" y1="678.7" x2="3675" y2="696.5" stroke="#141213" stroke-width="2.6"/>
<line x1="3797.3" y1="678.7" x2="3797.3" y2="696.5" stroke="#141213" stroke-width="2.6"/>
<line x1="3952" y1="678.7" x2="3952" y2="696.5" stroke="#141213" stroke-width="2.6"/>
<line x1="2693" y1="519.3" x2="2848.7" y2="354.3" stroke="#f4a0a0" stroke-width="3"/>
<line x1="2693" y1="542.8" x2="2848.7" y2="316" stroke="#f4a0a0" stroke-width="3"/>
<line x1="2693" y1="557.9" x2="2848.7" y2="489.7" stroke="#f4a0a0" stroke-width="3"/>
<line x1="2693" y1="580.4" x2="2848.7" y2="466.8" stroke="#f4a0a0" stroke-width="3"/>
<line x1="2693" y1="580.4" x2="2848.7" y2="399.3" stroke="#f4a0a0" stroke-width="3"/>
<line x1="2693" y1="595.5" x2="2848.7" y2="509" stroke="#f4a0a0" stroke-width="3"/>
<line x1="2693" y1="595.5" x2="2848.7" y2="393.2" stroke="#f4a0a0" stroke-width="3"/>
<line x1="2693" y1="618" x2="2848.7" y2="324" stroke="#f4a0a0" stroke-width="3"/>
<line x1="2693" y1="640.5" x2="2848.7" y2="280.6" stroke="#f4a0a0" stroke-width="3"/>
<circle cx="2693" cy="519.3" r="4.6" fill="#f4a0a0" stroke="none" stroke-width="0"/>
<circle cx="2848.7" cy="354.3" r="4.6" fill="#f4a0a0" stroke="none" stroke-width="0"/>
<circle cx="2693" cy="542.8" r="4.6" fill="#f4a0a0" stroke="none" stroke-width="0"/>
<circle cx="2848.7" cy="316" r="4.6" fill="#f4a0a0" stroke="none" stroke-width="0"/>
<circle cx="2693" cy="557.9" r="4.6" fill="#f4a0a0" stroke="none" stroke-width="0"/>
<circle cx="2848.7" cy="489.7" r="4.6" fill="#f4a0a0" stroke="none" stroke-width="0"/>
<circle cx="2693" cy="580.4" r="4.6" fill="#f4a0a0" stroke="none" stroke-width="0"/>
<circle cx="2848.7" cy="466.8" r="4.6" fill="#f4a0a0" stroke="none" stroke-width="0"/>
<circle cx="2693" cy="580.4" r="4.6" fill="#f4a0a0" stroke="none" stroke-width="0"/>
<circle cx="2848.7" cy="399.3" r="4.6" fill="#f4a0a0" stroke="none" stroke-width="0"/>
<circle cx="2693" cy="595.5" r="4.6" fill="#f4a0a0" stroke="none" stroke-width="0"/>
<circle cx="2848.7" cy="509" r="4.6" fill="#f4a0a0" stroke="none" stroke-width="0"/>
<circle cx="2693" cy="595.5" r="4.6" fill="#f4a0a0" stroke="none" stroke-width="0"/>
<circle cx="2848.7" cy="393.2" r="4.6" fill="#f4a0a0" stroke="none" stroke-width="0"/>
<circle cx="2693" cy="618" r="4.6" fill="#f4a0a0" stroke="none" stroke-width="0"/>
<circle cx="2848.7" cy="324" r="4.6" fill="#f4a0a0" stroke="none" stroke-width="0"/>
<circle cx="2693" cy="640.5" r="4.6" fill="#f4a0a0" stroke="none" stroke-width="0"/>
<circle cx="2848.7" cy="280.6" r="4.6" fill="#f4a0a0" stroke="none" stroke-width="0"/>
<line x1="2968.8" y1="549.2" x2="3124" y2="600.4" stroke="#a2a2a5" stroke-width="3"/>
<line x1="2968.8" y1="558" x2="3124" y2="618" stroke="#a2a2a5" stroke-width="3"/>
<line x1="2968.8" y1="568" x2="3124" y2="602" stroke="#a2a2a5" stroke-width="3"/>
<line x1="2968.8" y1="587.6" x2="3124" y2="610" stroke="#a2a2a5" stroke-width="3"/>
<line x1="2968.8" y1="665.2" x2="3124" y2="663.6" stroke="#a2a2a5" stroke-width="3"/>
<line x1="2968.8" y1="671" x2="3124" y2="671" stroke="#a2a2a5" stroke-width="3"/>
<line x1="2968.8" y1="677.5" x2="3124" y2="655.9" stroke="#a2a2a5" stroke-width="3"/>
<circle cx="2968.8" cy="549.2" r="4.6" fill="#a2a2a5" stroke="none" stroke-width="0"/>
<circle cx="3124" cy="600.4" r="4.6" fill="#a2a2a5" stroke="none" stroke-width="0"/>
<circle cx="2968.8" cy="558" r="4.6" fill="#a2a2a5" stroke="none" stroke-width="0"/>
<circle cx="3124" cy="618" r="4.6" fill="#a2a2a5" stroke="none" stroke-width="0"/>
<circle cx="2968.8" cy="568" r="4.6" fill="#a2a2a5" stroke="none" stroke-width="0"/>
<circle cx="3124" cy="602" r="4.6" fill="#a2a2a5" stroke="none" stroke-width="0"/>
<circle cx="2968.8" cy="587.6" r="4.6" fill="#a2a2a5" stroke="none" stroke-width="0"/>
<circle cx="3124" cy="610" r="4.6" fill="#a2a2a5" stroke="none" stroke-width="0"/>
<circle cx="2968.8" cy="665.2" r="4.6" fill="#a2a2a5" stroke="none" stroke-width="0"/>
<circle cx="3124" cy="663.6" r="4.6" fill="#a2a2a5" stroke="none" stroke-width="0"/>
<circle cx="2968.8" cy="671" r="4.6" fill="#a2a2a5" stroke="none" stroke-width="0"/>
<circle cx="3124" cy="671" r="4.6" fill="#a2a2a5" stroke="none" stroke-width="0"/>
<circle cx="2968.8" cy="677.5" r="4.6" fill="#a2a2a5" stroke="none" stroke-width="0"/>
<circle cx="3124" cy="655.9" r="4.6" fill="#a2a2a5" stroke="none" stroke-width="0"/>
<line x1="3245.4" y1="569.7" x2="3400.5" y2="520" stroke="#12b86e" stroke-width="3"/>
<line x1="3245.4" y1="587.9" x2="3400.5" y2="566.2" stroke="#12b86e" stroke-width="3"/>
<line x1="3245.4" y1="597.2" x2="3400.5" y2="570.1" stroke="#12b86e" stroke-width="3"/>
<line x1="3245.4" y1="614" x2="3400.5" y2="579.2" stroke="#12b86e" stroke-width="3"/>
<line x1="3245.4" y1="647" x2="3400.5" y2="597.2" stroke="#12b86e" stroke-width="3"/>
<line x1="3245.4" y1="647" x2="3400.5" y2="665.2" stroke="#12b86e" stroke-width="3"/>
<line x1="3245.4" y1="669.8" x2="3400.5" y2="620.9" stroke="#12b86e" stroke-width="3"/>
<circle cx="3245.4" cy="569.7" r="4.6" fill="#12b86e" stroke="none" stroke-width="0"/>
<circle cx="3400.5" cy="520" r="4.6" fill="#12b86e" stroke="none" stroke-width="0"/>
<circle cx="3245.4" cy="587.9" r="4.6" fill="#12b86e" stroke="none" stroke-width="0"/>
<circle cx="3400.5" cy="566.2" r="4.6" fill="#12b86e" stroke="none" stroke-width="0"/>
<circle cx="3245.4" cy="597.2" r="4.6" fill="#12b86e" stroke="none" stroke-width="0"/>
<circle cx="3400.5" cy="570.1" r="4.6" fill="#12b86e" stroke="none" stroke-width="0"/>
<circle cx="3245.4" cy="614" r="4.6" fill="#12b86e" stroke="none" stroke-width="0"/>
<circle cx="3400.5" cy="579.2" r="4.6" fill="#12b86e" stroke="none" stroke-width="0"/>
<circle cx="3245.4" cy="647" r="4.6" fill="#12b86e" stroke="none" stroke-width="0"/>
<circle cx="3400.5" cy="597.2" r="4.6" fill="#12b86e" stroke="none" stroke-width="0"/>
<circle cx="3245.4" cy="647" r="4.6" fill="#12b86e" stroke="none" stroke-width="0"/>
<circle cx="3400.5" cy="665.2" r="4.6" fill="#12b86e" stroke="none" stroke-width="0"/>
<circle cx="3245.4" cy="669.8" r="4.6" fill="#12b86e" stroke="none" stroke-width="0"/>
<circle cx="3400.5" cy="620.9" r="4.6" fill="#12b86e" stroke="none" stroke-width="0"/>
<line x1="3521" y1="588.7" x2="3675.1" y2="592.8" stroke="#c8924a" stroke-width="3"/>
<line x1="3521" y1="596.8" x2="3675.1" y2="606.7" stroke="#c8924a" stroke-width="3"/>
<line x1="3521" y1="596.8" x2="3675.1" y2="628.8" stroke="#c8924a" stroke-width="3"/>
<line x1="3521" y1="602.5" x2="3675.1" y2="620.3" stroke="#c8924a" stroke-width="3"/>
<line x1="3521" y1="638.3" x2="3675.1" y2="642.4" stroke="#c8924a" stroke-width="3"/>
<line x1="3521" y1="638.3" x2="3675.1" y2="651.9" stroke="#c8924a" stroke-width="3"/>
<line x1="3521" y1="660.4" x2="3675.1" y2="651.9" stroke="#c8924a" stroke-width="3"/>
<circle cx="3521" cy="588.7" r="4.6" fill="#c8924a" stroke="none" stroke-width="0"/>
<circle cx="3675.1" cy="592.8" r="4.6" fill="#c8924a" stroke="none" stroke-width="0"/>
<circle cx="3521" cy="596.8" r="4.6" fill="#c8924a" stroke="none" stroke-width="0"/>
<circle cx="3675.1" cy="606.7" r="4.6" fill="#c8924a" stroke="none" stroke-width="0"/>
<circle cx="3521" cy="596.8" r="4.6" fill="#c8924a" stroke="none" stroke-width="0"/>
<circle cx="3675.1" cy="628.8" r="4.6" fill="#c8924a" stroke="none" stroke-width="0"/>
<circle cx="3521" cy="602.5" r="4.6" fill="#c8924a" stroke="none" stroke-width="0"/>
<circle cx="3675.1" cy="620.3" r="4.6" fill="#c8924a" stroke="none" stroke-width="0"/>
<circle cx="3521" cy="638.3" r="4.6" fill="#c8924a" stroke="none" stroke-width="0"/>
<circle cx="3675.1" cy="642.4" r="4.6" fill="#c8924a" stroke="none" stroke-width="0"/>
<circle cx="3521" cy="638.3" r="4.6" fill="#c8924a" stroke="none" stroke-width="0"/>
<circle cx="3675.1" cy="651.9" r="4.6" fill="#c8924a" stroke="none" stroke-width="0"/>
<circle cx="3521" cy="660.4" r="4.6" fill="#c8924a" stroke="none" stroke-width="0"/>
<circle cx="3675.1" cy="651.9" r="4.6" fill="#c8924a" stroke="none" stroke-width="0"/>
<line x1="3797.3" y1="566.8" x2="3952" y2="585.5" stroke="#8fbdf2" stroke-width="3"/>
<line x1="3797.3" y1="577.7" x2="3952" y2="629.5" stroke="#8fbdf2" stroke-width="3"/>
<line x1="3797.3" y1="598.4" x2="3952" y2="621" stroke="#8fbdf2" stroke-width="3"/>
<line x1="3797.3" y1="602.9" x2="3952" y2="585.5" stroke="#8fbdf2" stroke-width="3"/>
<line x1="3797.3" y1="609.7" x2="3952" y2="606.7" stroke="#8fbdf2" stroke-width="3"/>
<line x1="3797.3" y1="620.3" x2="3952" y2="642.4" stroke="#8fbdf2" stroke-width="3"/>
<circle cx="3797.3" cy="566.8" r="4.6" fill="#8fbdf2" stroke="none" stroke-width="0"/>
<circle cx="3952" cy="585.5" r="4.6" fill="#8fbdf2" stroke="none" stroke-width="0"/>
<circle cx="3797.3" cy="577.7" r="4.6" fill="#8fbdf2" stroke="none" stroke-width="0"/>
<circle cx="3952" cy="629.5" r="4.6" fill="#8fbdf2" stroke="none" stroke-width="0"/>
<circle cx="3797.3" cy="598.4" r="4.6" fill="#8fbdf2" stroke="none" stroke-width="0"/>
<circle cx="3952" cy="621" r="4.6" fill="#8fbdf2" stroke="none" stroke-width="0"/>
<circle cx="3797.3" cy="602.9" r="4.6" fill="#8fbdf2" stroke="none" stroke-width="0"/>
<circle cx="3952" cy="585.5" r="4.6" fill="#8fbdf2" stroke="none" stroke-width="0"/>
<circle cx="3797.3" cy="609.7" r="4.6" fill="#8fbdf2" stroke="none" stroke-width="0"/>
<circle cx="3952" cy="606.7" r="4.6" fill="#8fbdf2" stroke="none" stroke-width="0"/>
<circle cx="3797.3" cy="620.3" r="4.6" fill="#8fbdf2" stroke="none" stroke-width="0"/>
<circle cx="3952" cy="642.4" r="4.6" fill="#8fbdf2" stroke="none" stroke-width="0"/>
<polyline points="2690.5,470 2690.5,185.3 2848.6,185.3 2848.6,253.3" fill="none" stroke="#141213" stroke-width="2.6"/>
<text x="2736.83" y="187.5" font-size="53" font-weight="bold" fill="#000" stroke="#000">*</text>
<text x="2760.43" y="187.5" font-size="53" font-weight="bold" fill="#000" stroke="#000">*</text>
<text x="2784.03" y="187.5" font-size="53" font-weight="bold" fill="#000" stroke="#000">*</text>
<text x="2385.25" y="415.25" font-size="35.6" fill="#141213" stroke="#141213" transform="rotate(-90 2475.5 406)">Hit rate (%)</text>
<text x="2652.88" y="740.6" font-size="35.6" fill="#141213" stroke="#141213">OFF</text>
<text x="2818.2" y="740.6" font-size="35.6" fill="#141213" stroke="#141213">ON</text>
<line x1="2654" y1="756" x2="2877" y2="756" stroke="#141213" stroke-width="3"/>
<text x="2928.68" y="740.6" font-size="35.6" fill="#141213" stroke="#141213">OFF</text>
<text x="3093.5" y="740.6" font-size="35.6" fill="#141213" stroke="#141213">ON</text>
<line x1="2929" y1="756" x2="3151.6" y2="756" stroke="#141213" stroke-width="3"/>
<text x="3217.88" y="740.6" font-size="35.6" fill="#141213" stroke="#141213">OFF</text>
<text x="3382.7" y="740.6" font-size="35.6" fill="#141213" stroke="#141213">ON</text>
<line x1="3219" y1="756" x2="3441" y2="756" stroke="#141213" stroke-width="3"/>
<text x="3489.18" y="740.6" font-size="35.6" fill="#141213" stroke="#141213">OFF</text>
<text x="3653" y="740.6" font-size="35.6" fill="#141213" stroke="#141213">ON</text>
<line x1="3494.8" y1="756" x2="3716.5" y2="756" stroke="#141213" stroke-width="3"/>
<text x="3770.18" y="740.6" font-size="35.6" fill="#141213" stroke="#141213">OFF</text>
<text x="3934.5" y="740.6" font-size="35.6" fill="#141213" stroke="#141213">ON</text>
<line x1="3769" y1="756" x2="3990.7" y2="756" stroke="#141213" stroke-width="3"/>
<text x="2606.43" y="962.53" font-size="36.4" fill="#141213" stroke="#141213" transform="rotate(-45 2606.43 962.53)">Retrieval-ChR2</text>
<text x="2884.51" y="975.06" font-size="36.4" fill="#141213" stroke="#141213" transform="rotate(-45 2884.51 975.06)">Retrieval-EGFP</text>
<text x="3125.22" y="1007.14" font-size="36.4" fill="#141213" stroke="#141213" transform="rotate(-45 3125.22 1007.14)">Whisker Deflection</text>
<text x="3416.43" y="995.43" font-size="36.4" fill="#141213" stroke="#141213" transform="rotate(-45 3416.43 995.43)">Random Labeled</text>
<text x="3760.58" y="924.45" font-size="36.4" fill="#141213" stroke="#141213" transform="rotate(-45 3760.58 924.45)">Home Cage</text>
<text x="2.2" y="1237.2" font-size="31.8" fill="#000" stroke="#000">AAV-RAM-d2TTA::TRE</text>
<text x="42.5" y="1274.6" font-size="31.8" fill="#000" stroke="#000">-hM4D(Gi)-EYFP</text>
<rect x="365.2" y="1329.6" width="57.2" height="31.7" fill="#b6e0e3" stroke="#000" stroke-width="2.4"/>
<text x="442.65" y="1356.9" font-size="38" fill="#000" stroke="#000">+DOX</text>
<rect x="657.2" y="1329.4" width="57.1" height="32" fill="#fff" stroke="#000" stroke-width="2.4"/>
<text x="738.25" y="1357.2" font-size="38.3" fill="#000" stroke="#000">-DOX</text>
<defs><radialGradient id="gg6" cx="0.5" cy="0.5" r="0.5"><stop offset="0" stop-color="#37a943" stop-opacity="0.95"/><stop offset="0.3" stop-color="#3fae49" stop-opacity="0.75"/><stop offset="0.65" stop-color="#6cc26f" stop-opacity="0.28"/><stop offset="1" stop-color="#a5dba5" stop-opacity="0"/></radialGradient></defs>
<g transform="translate(188.3 1587) scale(2.1) translate(-152.3 -46.3)">
<rect x="124.35" y="15.77" width="8.12" height="9.14" rx="3.74" fill="#fff" stroke="#111" stroke-width="1.0" transform="rotate(-12 128.42 20.34)"/>
<rect x="132.48" y="13.49" width="8.12" height="9.64" rx="3.74" fill="#fff" stroke="#111" stroke-width="1.0" transform="rotate(-12 136.54 18.31)"/>
<rect x="142.12" y="11.96" width="11.17" height="9.64" rx="4.44" fill="#fff" stroke="#111" stroke-width="1.0" transform="rotate(-12 147.71 16.79)"/>
<rect x="154.81" y="11.46" width="14.21" height="9.64" rx="4.44" fill="#fff" stroke="#111" stroke-width="1.0" transform="rotate(-12 161.92 16.28)"/>
<rect x="170.55" y="15.26" width="9.14" height="11.17" rx="4.2" fill="#fff" stroke="#111" stroke-width="1.0" transform="rotate(-12 175.12 20.85)"/>
<rect x="126.39" y="26.94" width="7.11" height="9.14" rx="3.27" fill="#fff" stroke="#111" stroke-width="1.0" transform="rotate(-12 129.94 31.51)"/>
<rect x="135.52" y="24.91" width="8.12" height="11.17" rx="3.74" fill="#fff" stroke="#111" stroke-width="1.0" transform="rotate(-12 139.58 30.49)"/>
<rect x="144.66" y="23.39" width="11.17" height="12.18" rx="5.14" fill="#fff" stroke="#111" stroke-width="1.0" transform="rotate(-12 150.24 29.48)"/>
<rect x="157.86" y="22.88" width="12.18" height="13.2" rx="5.6" fill="#fff" stroke="#111" stroke-width="1.0" transform="rotate(-12 163.95 29.48)"/>
<rect x="173.09" y="27.95" width="10.15" height="15.23" rx="4.67" fill="#fff" stroke="#111" stroke-width="1.0" transform="rotate(-12 178.16 35.57)"/>
<rect x="106.59" y="38.11" width="6.09" height="8.12" rx="2.8" fill="#fff" stroke="#111" stroke-width="1.0" transform="rotate(-12 109.63 42.17)"/>
<rect x="113.19" y="39.12" width="6.09" height="10.15" rx="2.8" fill="#fff" stroke="#111" stroke-width="1.0" transform="rotate(-12 116.23 44.2)"/>
<rect x="119.79" y="39.12" width="7.11" height="12.18" rx="3.27" fill="#fff" stroke="#111" stroke-width="1.0" transform="rotate(-12 123.34 45.21)"/>
<rect x="126.89" y="39.63" width="8.12" height="14.21" rx="3.74" fill="#fff" stroke="#111" stroke-width="1.0" transform="rotate(-12 130.95 46.74)"/>
<rect x="136.03" y="38.61" width="9.14" height="16.24" rx="4.2" fill="#fff" stroke="#111" stroke-width="1.0" transform="rotate(-12 140.6 46.74)"/>
<rect x="146.18" y="39.63" width="11.17" height="15.23" rx="5.14" fill="#fff" stroke="#111" stroke-width="1.0" transform="rotate(-12 151.77 47.24)"/>
<rect x="158.36" y="38.61" width="13.2" height="16.24" rx="6.07" fill="#fff" stroke="#111" stroke-width="1.0" transform="rotate(-12 164.96 46.74)"/>
<rect x="174.61" y="45.72" width="10.15" height="17.26" rx="4.67" fill="#fff" stroke="#111" stroke-width="1.0" transform="rotate(-12 179.68 54.35)"/>
<rect x="102.02" y="47.75" width="7.11" height="11.17" rx="3.27" fill="#fff" stroke="#111" stroke-width="1.0" transform="rotate(-12 105.57 53.34)"/>
<rect x="108.62" y="51.81" width="8.12" height="13.2" rx="3.74" fill="#fff" stroke="#111" stroke-width="1.0" transform="rotate(-12 112.68 58.41)"/>
<rect x="115.22" y="53.84" width="8.12" height="15.23" rx="3.74" fill="#fff" stroke="#111" stroke-width="1.0" transform="rotate(-12 119.28 61.46)"/>
<rect x="123.34" y="56.38" width="9.14" height="16.24" rx="4.2" fill="#fff" stroke="#111" stroke-width="1.0" transform="rotate(-12 127.91 64.5)"/>
<rect x="132.48" y="56.89" width="10.15" height="17.26" rx="4.67" fill="#fff" stroke="#111" stroke-width="1.0" transform="rotate(-12 137.55 65.52)"/>
<rect x="143.14" y="57.4" width="11.17" height="16.24" rx="5.14" fill="#fff" stroke="#111" stroke-width="1.0" transform="rotate(-12 148.72 65.52)"/>
<rect x="156.33" y="56.89" width="14.21" height="15.23" rx="6.54" fill="#fff" stroke="#111" stroke-width="1.0" transform="rotate(-12 163.44 64.5)"/>
<rect x="171.06" y="64.5" width="12.18" height="14.21" rx="5.6" fill="#fff" stroke="#111" stroke-width="1.0" transform="rotate(-12 177.15 71.61)"/>
<rect x="92.38" y="60.44" width="10.15" height="16.24" rx="4.67" fill="#fff" stroke="#111" stroke-width="1.0" transform="rotate(-12 97.45 68.56)"/>
<rect x="99.48" y="66.53" width="10.15" height="16.24" rx="4.67" fill="#fff" stroke="#111" stroke-width="1.0" transform="rotate(-12 104.56 74.66)"/>
<rect x="107.1" y="71.61" width="11.17" height="15.23" rx="5.14" fill="#fff" stroke="#111" stroke-width="1.0" transform="rotate(-12 112.68 79.22)"/>
<rect x="117.25" y="74.66" width="10.15" height="14.21" rx="4.67" fill="#fff" stroke="#111" stroke-width="1.0" transform="rotate(-12 122.32 81.76)"/>
<rect x="127.4" y="75.67" width="11.17" height="16.24" rx="5.14" fill="#fff" stroke="#111" stroke-width="1.0" transform="rotate(-12 132.98 83.79)"/>
<rect x="139.08" y="75.16" width="13.2" height="16.24" rx="6.07" fill="#fff" stroke="#111" stroke-width="1.0" transform="rotate(-12 145.67 83.28)"/>
<rect x="152.78" y="74.15" width="15.23" height="14.21" rx="6.54" fill="#fff" stroke="#111" stroke-width="1.0" transform="rotate(-12 160.4 81.25)"/>
<ellipse cx="152.3" cy="46.3" rx="27" ry="27" fill="url(#gg6)"/>
</g>
<g>
<rect x="186.5" y="1316" width="4" height="40" fill="#bbb" stroke="#222" stroke-width="1"/>
<ellipse cx="188.5" cy="1315" rx="9" ry="3.2" fill="#aaa" stroke="#222" stroke-width="1.2"/>
<rect x="179.5" y="1357" width="18.5" height="149" fill="#fff" stroke="#222" stroke-width="1.3"/>
<line x1="185.5" y1="1360" x2="185.5" y2="1500" stroke="#777" stroke-width="0.8"/>
<rect x="181" y="1478" width="15.5" height="27" fill="#cfe3f2"/>
<line x1="190" y1="1420" x2="196" y2="1420" stroke="#666" stroke-width="0.7"/>
<line x1="190" y1="1426" x2="196" y2="1426" stroke="#666" stroke-width="0.7"/>
<line x1="190" y1="1432" x2="196" y2="1432" stroke="#666" stroke-width="0.7"/>
<line x1="190" y1="1438" x2="196" y2="1438" stroke="#666" stroke-width="0.7"/>
<line x1="190" y1="1444" x2="196" y2="1444" stroke="#666" stroke-width="0.7"/>
<line x1="190" y1="1450" x2="196" y2="1450" stroke="#666" stroke-width="0.7"/>
<line x1="190" y1="1456" x2="196" y2="1456" stroke="#666" stroke-width="0.7"/>
<line x1="190" y1="1462" x2="196" y2="1462" stroke="#666" stroke-width="0.7"/>
<line x1="190" y1="1468" x2="196" y2="1468" stroke="#666" stroke-width="0.7"/>
<line x1="190" y1="1474" x2="196" y2="1474" stroke="#666" stroke-width="0.7"/>
<line x1="190" y1="1480" x2="196" y2="1480" stroke="#666" stroke-width="0.7"/>
<line x1="190" y1="1486" x2="196" y2="1486" stroke="#666" stroke-width="0.7"/>
<line x1="190" y1="1492" x2="196" y2="1492" stroke="#666" stroke-width="0.7"/>
<line x1="190" y1="1498" x2="196" y2="1498" stroke="#666" stroke-width="0.7"/>
<rect x="174" y="1354" width="29.5" height="8" rx="3" fill="#fff" stroke="#222" stroke-width="1.2"/>
<rect x="178.5" y="1505" width="20" height="16" rx="2" fill="#6a6c6f" stroke="#222" stroke-width="1"/>
<line x1="188.5" y1="1521" x2="188.5" y2="1591" stroke="#111" stroke-width="1.5"/>
</g>
<text x="412.7" y="1432" font-size="39.3" fill="#000" stroke="#000">AAV</text>
<text x="380.5" y="1475.6" font-size="39.2" fill="#000" stroke="#000">Injection</text>
<text x="605.75" y="1432.4" font-size="39.2" fill="#000" stroke="#000">Water</text>
<text x="561.45" y="1475.2" font-size="39.2" fill="#000" stroke="#000">Restriction</text>
<text x="824" y="1480" font-size="38.2" fill="#888888" stroke="#888888">Licking</text>
<text x="987.75" y="1480" font-size="38.2" fill="#1370bd" stroke="#1370bd">Whisker Training</text>
<text x="1387.4" y="1432.7" font-size="38.2" fill="#8e2b9b" stroke="#8e2b9b">Retrieval</text>
<text x="1416.7" y="1480" font-size="38.2" fill="#8e2b9b" stroke="#8e2b9b">Label</text>
<text x="1138.55" y="1325" font-size="38.9" fill="#e85a2c" stroke="#e85a2c">Performance ≥ 75%</text>
<text x="1080.5" y="1367" font-size="39.1" fill="#e85a2c" stroke="#e85a2c">for Two Consecutive Days</text>
<text x="1597.6" y="1480" font-size="39.1"><tspan fill="#e8343a" stroke="#e8343a">CNO</tspan><tspan fill="#111" stroke="#111">/</tspan><tspan fill="#2fb04a" stroke="#2fb04a">Saline</tspan><tspan fill="#111" stroke="#111"> Injection</tspan></text>
<rect x="358.6" y="1562.5" width="955.4" height="27" fill="#b6e0e3" stroke="none" stroke-width="0"/>
<rect x="1314" y="1562.5" width="237.8" height="27" fill="#fff" stroke="none" stroke-width="0"/>
<rect x="1551.8" y="1562.5" width="458.7" height="27" fill="#b6e0e3" stroke="none" stroke-width="0"/>
<line x1="358.6" y1="1562.5" x2="2010.5" y2="1562.5" stroke="#000" stroke-width="2.6"/>
<line x1="358.6" y1="1589.5" x2="2010.5" y2="1589.5" stroke="#000" stroke-width="2.6"/>
<line x1="358.6" y1="1561.2" x2="358.6" y2="1590.8" stroke="#000" stroke-width="2.6"/>
<line x1="447.9" y1="1505.5" x2="447.9" y2="1590.7" stroke="#000" stroke-width="2.4"/>
<line x1="651.4" y1="1505.5" x2="651.4" y2="1590.7" stroke="#000" stroke-width="2.4"/>
<line x1="784.2" y1="1505.5" x2="784.2" y2="1590.7" stroke="#000" stroke-width="2.4"/>
<line x1="965.9" y1="1505.5" x2="965.9" y2="1590.7" stroke="#000" stroke-width="2.4"/>
<line x1="1551.8" y1="1505.5" x2="1551.8" y2="1590.7" stroke="#000" stroke-width="2.4"/>
<line x1="2010.5" y1="1505.5" x2="2010.5" y2="1590.7" stroke="#000" stroke-width="2.4"/>
<line x1="832.4" y1="1505.5" x2="832.4" y2="1562.5" stroke="#8c8c8c" stroke-width="2.2"/>
<line x1="875.2" y1="1505.5" x2="875.2" y2="1562.5" stroke="#8c8c8c" stroke-width="2.2"/>
<line x1="918.7" y1="1505.5" x2="918.7" y2="1562.5" stroke="#8c8c8c" stroke-width="2.2"/>
<line x1="1008.8" y1="1505.5" x2="1008.8" y2="1562.5" stroke="#1370bd" stroke-width="2.2"/>
<line x1="1051.6" y1="1505.5" x2="1051.6" y2="1562.5" stroke="#1370bd" stroke-width="2.2"/>
<line x1="1094.6" y1="1505.5" x2="1094.6" y2="1562.5" stroke="#1370bd" stroke-width="2.2"/>
<line x1="1138.3" y1="1505.5" x2="1138.3" y2="1562.5" stroke="#1370bd" stroke-width="2.2"/>
<line x1="1181.7" y1="1505.5" x2="1181.7" y2="1562.5" stroke="#1370bd" stroke-width="2.2"/>
<line x1="1225" y1="1505.5" x2="1225" y2="1562.5" stroke="#1370bd" stroke-width="2.2"/>
<line x1="1268.6" y1="1505.5" x2="1268.6" y2="1562.5" stroke="#1370bd" stroke-width="2.2"/>
<line x1="1461.7" y1="1505.5" x2="1461.7" y2="1562.5" stroke="#8e2b9b" stroke-width="2.4"/>
<line x1="1592.5" y1="1505.5" x2="1592.5" y2="1562.5" stroke="#2fb04a" stroke-width="2.2"/>
<line x1="1635.7" y1="1505.5" x2="1635.7" y2="1562.5" stroke="#2fb04a" stroke-width="2.2"/>
<line x1="1721.2" y1="1505.5" x2="1721.2" y2="1562.5" stroke="#2fb04a" stroke-width="2.2"/>
<line x1="1763.1" y1="1505.5" x2="1763.1" y2="1562.5" stroke="#2fb04a" stroke-width="2.2"/>
<line x1="1851.2" y1="1505.5" x2="1851.2" y2="1562.5" stroke="#2fb04a" stroke-width="2.2"/>
<line x1="1890.2" y1="1505.5" x2="1890.2" y2="1562.5" stroke="#2fb04a" stroke-width="2.2"/>
<line x1="1970.7" y1="1505.5" x2="1970.7" y2="1562.5" stroke="#2fb04a" stroke-width="2.2"/>
<line x1="1679.3" y1="1505.5" x2="1679.3" y2="1562.5" stroke="#e8343a" stroke-width="2.2"/>
<line x1="1807.2" y1="1505.5" x2="1807.2" y2="1562.5" stroke="#e8343a" stroke-width="2.2"/>
<line x1="1930" y1="1505.5" x2="1930" y2="1562.5" stroke="#e8343a" stroke-width="2.2"/>
<line x1="1314" y1="1503.8" x2="1314" y2="1590" stroke="#e85a2c" stroke-width="2.4"/>
<line x1="1314" y1="1489.8" x2="1314" y2="1392" stroke="#e85a2c" stroke-width="2.2"/>
<polygon points="1314,1382.4 1309.5,1396 1318.5,1396" fill="#e85a2c" stroke="none" stroke-width="0"/>
<polygon points="571.92,1560.5 602.91,1560.5 585.23,1591.5 555.12,1591.5" fill="#fff" stroke="none" stroke-width="0"/>
<line x1="543.3" y1="1613.3" x2="580.7" y2="1544.3" stroke="#000" stroke-width="3"/>
<line x1="572.4" y1="1614" x2="612.2" y2="1544.2" stroke="#000" stroke-width="3"/>
<text x="364.5" y="1544.3" font-size="42.5" fill="#000" stroke="#000">24h</text>
<text x="463.75" y="1544.3" font-size="42.3" fill="#000" stroke="#000">~14d</text>
<text x="695.75" y="1543.2" font-size="42.4" fill="#000" stroke="#000">3d</text>
<text x="1358" y="1543" font-size="42.4" fill="#000" stroke="#000">48h</text>
<text x="1469" y="1543" font-size="42.4" fill="#000" stroke="#000">24h</text>
<text x="2022.4" y="1589" font-size="41.5" fill="#000" stroke="#000">Sac.</text>
<line x1="2329.8" y1="1153.5" x2="2329.8" y2="1587.6" stroke="#141213" stroke-width="2.6"/>
<line x1="2329.8" y1="1625.2" x2="2329.8" y2="1698.5" stroke="#141213" stroke-width="2.6"/>
<line x1="2305.5" y1="1155" x2="2329.8" y2="1155" stroke="#141213" stroke-width="2.6"/>
<text x="2214.75" y="1170" font-size="49" fill="#141213" stroke="#141213">100</text>
<line x1="2305.5" y1="1226.86" x2="2329.8" y2="1226.86" stroke="#141213" stroke-width="2.6"/>
<text x="2242" y="1241.86" font-size="49" fill="#141213" stroke="#141213">90</text>
<line x1="2305.5" y1="1298.72" x2="2329.8" y2="1298.72" stroke="#141213" stroke-width="2.6"/>
<text x="2242" y="1313.72" font-size="49" fill="#141213" stroke="#141213">80</text>
<line x1="2305.5" y1="1370.58" x2="2329.8" y2="1370.58" stroke="#141213" stroke-width="2.6"/>
<text x="2242" y="1385.58" font-size="49" fill="#141213" stroke="#141213">70</text>
<line x1="2305.5" y1="1442.44" x2="2329.8" y2="1442.44" stroke="#141213" stroke-width="2.6"/>
<text x="2242" y="1457.44" font-size="49" fill="#141213" stroke="#141213">60</text>
<line x1="2305.5" y1="1514.3" x2="2329.8" y2="1514.3" stroke="#141213" stroke-width="2.6"/>
<text x="2242" y="1529.3" font-size="49" fill="#141213" stroke="#141213">50</text>
<text x="2242" y="1601.8" font-size="49" fill="#141213" stroke="#141213">40</text>
<text x="2242" y="1642.4" font-size="49" fill="#141213" stroke="#141213">10</text>
<text x="2269.25" y="1712.7" font-size="49" fill="#141213" stroke="#141213">0</text>
<line x1="2315.3" y1="1577" x2="2342.7" y2="1603.9" stroke="#141213" stroke-width="2.6"/>
<line x1="2315.3" y1="1609.5" x2="2342.7" y2="1636.3" stroke="#141213" stroke-width="2.6"/>
<line x1="2305" y1="1697.3" x2="3400.6" y2="1697.3" stroke="#141213" stroke-width="2.8"/>
<line x1="2328.6" y1="1697.3" x2="2328.6" y2="1722.5" stroke="#141213" stroke-width="2.6"/>
<text x="2289.22" y="1768.3" font-size="49.5" fill="#141213" stroke="#141213">-15</text>
<line x1="2506.6" y1="1697.3" x2="2506.6" y2="1722.5" stroke="#141213" stroke-width="2.6"/>
<text x="2467.22" y="1768.3" font-size="49.5" fill="#141213" stroke="#141213">-10</text>
<line x1="2684.6" y1="1697.3" x2="2684.6" y2="1722.5" stroke="#141213" stroke-width="2.6"/>
<text x="2658.97" y="1768.3" font-size="49.5" fill="#141213" stroke="#141213">-5</text>
<line x1="2862.6" y1="1697.3" x2="2862.6" y2="1722.5" stroke="#141213" stroke-width="2.6"/>
<text x="2848.85" y="1768.3" font-size="49.5" fill="#141213" stroke="#141213">0</text>
<line x1="3040.6" y1="1697.3" x2="3040.6" y2="1722.5" stroke="#141213" stroke-width="2.6"/>
<text x="3026.85" y="1768.3" font-size="49.5" fill="#141213" stroke="#141213">5</text>
<line x1="3218.6" y1="1697.3" x2="3218.6" y2="1722.5" stroke="#141213" stroke-width="2.6"/>
<text x="3190.22" y="1768.3" font-size="49.5" fill="#141213" stroke="#141213">10</text>
<line x1="3396.6" y1="1697.3" x2="3396.6" y2="1722.5" stroke="#141213" stroke-width="2.6"/>
<text x="3368.22" y="1768.3" font-size="49.5" fill="#141213" stroke="#141213">15</text>
<text x="2728.2" y="1847" font-size="49.2" fill="#141213" stroke="#141213">Training day</text>
<text x="2012.78" y="1414.62" font-size="49" fill="#141213" stroke="#141213" transform="rotate(-90 2198.4 1402)">Performance (%)</text>
<text x="2538.4" y="1135" font-size="41" fill="#29aae1" stroke="#29aae1">Training</text>
<rect x="2428" y="1155.7" width="366.7" height="11" fill="#29aae1" stroke="none" stroke-width="0"/>
<text x="2811.75" y="1137.5" font-size="41" fill="#f7941d" stroke="#f7941d">Label</text>
<rect x="2841.7" y="1155.1" width="41.9" height="11.9" fill="#f7941d" stroke="none" stroke-width="0"/>
<text x="3000.65" y="1142" font-size="40.6" fill="#39b54a" stroke="#39b54a">Saline</text>
<text x="3172" y="1142" font-size="40.2" fill="#e31e24" stroke="#e31e24">CNO</text>
<line x1="2338" y1="1333.7" x2="3386" y2="1345.9" stroke="#29aae1" stroke-width="2.6" stroke-dasharray="20 20.5"/>
<polyline points="2435.4,1513.09 2471,1475.41 2506.6,1428.79 2542.2,1390.27 2577.8,1388.32 2613.4,1328.3 2649,1351.19 2684.6,1384.69 2720.2,1363.75 2755.8,1275.83 2791.4,1295.37" fill="none" stroke="#a7a7a9" stroke-width="2.2"/>
<circle cx="2435.4" cy="1513.09" r="3.3" fill="#a7a7a9" stroke="none" stroke-width="0"/>
<circle cx="2471" cy="1475.41" r="3.3" fill="#a7a7a9" stroke="none" stroke-width="0"/>
<circle cx="2506.6" cy="1428.79" r="3.3" fill="#a7a7a9" stroke="none" stroke-width="0"/>
<circle cx="2542.2" cy="1390.27" r="3.3" fill="#a7a7a9" stroke="none" stroke-width="0"/>
<circle cx="2577.8" cy="1388.32" r="3.3" fill="#a7a7a9" stroke="none" stroke-width="0"/>
<circle cx="2613.4" cy="1328.3" r="3.3" fill="#a7a7a9" stroke="none" stroke-width="0"/>
<circle cx="2649" cy="1351.19" r="3.3" fill="#a7a7a9" stroke="none" stroke-width="0"/>
<circle cx="2684.6" cy="1384.69" r="3.3" fill="#a7a7a9" stroke="none" stroke-width="0"/>
<circle cx="2720.2" cy="1363.75" r="3.3" fill="#a7a7a9" stroke="none" stroke-width="0"/>
<circle cx="2755.8" cy="1275.83" r="3.3" fill="#a7a7a9" stroke="none" stroke-width="0"/>
<circle cx="2791.4" cy="1295.37" r="3.3" fill="#a7a7a9" stroke="none" stroke-width="0"/>
<polyline points="2435.4,1513.09 2471,1494.95 2506.6,1490.76 2542.2,1501.93 2577.8,1507.51 2613.4,1358.17 2649,1286.99 2684.6,1250.15 2720.2,1327.47 2755.8,1261.87 2791.4,1249.31" fill="none" stroke="#a7a7a9" stroke-width="2.2"/>
<circle cx="2435.4" cy="1513.09" r="3.3" fill="#a7a7a9" stroke="none" stroke-width="0"/>
<circle cx="2471" cy="1494.95" r="3.3" fill="#a7a7a9" stroke="none" stroke-width="0"/>
<circle cx="2506.6" cy="1490.76" r="3.3" fill="#a7a7a9" stroke="none" stroke-width="0"/>
<circle cx="2542.2" cy="1501.93" r="3.3" fill="#a7a7a9" stroke="none" stroke-width="0"/>
<circle cx="2577.8" cy="1507.51" r="3.3" fill="#a7a7a9" stroke="none" stroke-width="0"/>
<circle cx="2613.4" cy="1358.17" r="3.3" fill="#a7a7a9" stroke="none" stroke-width="0"/>
<circle cx="2649" cy="1286.99" r="3.3" fill="#a7a7a9" stroke="none" stroke-width="0"/>
<circle cx="2684.6" cy="1250.15" r="3.3" fill="#a7a7a9" stroke="none" stroke-width="0"/>
<circle cx="2720.2" cy="1327.47" r="3.3" fill="#a7a7a9" stroke="none" stroke-width="0"/>
<circle cx="2755.8" cy="1261.87" r="3.3" fill="#a7a7a9" stroke="none" stroke-width="0"/>
<circle cx="2791.4" cy="1249.31" r="3.3" fill="#a7a7a9" stroke="none" stroke-width="0"/>
<polyline points="2435.4,1513.09 2471,1519.23 2506.6,1507.51 2542.2,1522.86 2577.8,1535.42 2613.4,1465.64 2649,1440.52 2684.6,1425.16 2720.2,1366.55 2755.8,1314.91 2791.4,1324.68" fill="none" stroke="#a7a7a9" stroke-width="2.2"/>
<circle cx="2435.4" cy="1513.09" r="3.3" fill="#a7a7a9" stroke="none" stroke-width="0"/>
<circle cx="2471" cy="1519.23" r="3.3" fill="#a7a7a9" stroke="none" stroke-width="0"/>
<circle cx="2506.6" cy="1507.51" r="3.3" fill="#a7a7a9" stroke="none" stroke-width="0"/>
<circle cx="2542.2" cy="1522.86" r="3.3" fill="#a7a7a9" stroke="none" stroke-width="0"/>
<circle cx="2577.8" cy="1535.42" r="3.3" fill="#a7a7a9" stroke="none" stroke-width="0"/>
<circle cx="2613.4" cy="1465.64" r="3.3" fill="#a7a7a9" stroke="none" stroke-width="0"/>
<circle cx="2649" cy="1440.52" r="3.3" fill="#a7a7a9" stroke="none" stroke-width="0"/>
<circle cx="2684.6" cy="1425.16" r="3.3" fill="#a7a7a9" stroke="none" stroke-width="0"/>
<circle cx="2720.2" cy="1366.55" r="3.3" fill="#a7a7a9" stroke="none" stroke-width="0"/>
<circle cx="2755.8" cy="1314.91" r="3.3" fill="#a7a7a9" stroke="none" stroke-width="0"/>
<circle cx="2791.4" cy="1324.68" r="3.3" fill="#a7a7a9" stroke="none" stroke-width="0"/>
<polyline points="2613.4,1497.74 2649,1483.22 2684.6,1443.31 2720.2,1372.13 2755.8,1328.86 2791.4,1316.3" fill="none" stroke="#a7a7a9" stroke-width="2.2"/>
<circle cx="2613.4" cy="1497.74" r="3.3" fill="#a7a7a9" stroke="none" stroke-width="0"/>
<circle cx="2649" cy="1483.22" r="3.3" fill="#a7a7a9" stroke="none" stroke-width="0"/>
<circle cx="2684.6" cy="1443.31" r="3.3" fill="#a7a7a9" stroke="none" stroke-width="0"/>
<circle cx="2720.2" cy="1372.13" r="3.3" fill="#a7a7a9" stroke="none" stroke-width="0"/>
<circle cx="2755.8" cy="1328.86" r="3.3" fill="#a7a7a9" stroke="none" stroke-width="0"/>
<circle cx="2791.4" cy="1316.3" r="3.3" fill="#a7a7a9" stroke="none" stroke-width="0"/>
<polyline points="2435.4,1513.09 2471,1496.34 2506.6,1492.16 2542.2,1504.72 2577.8,1508.9 2613.4,1426.56 2649,1326.07 2684.6,1302.9 2720.2,1323.84 2755.8,1245.68 2791.4,1235.35" fill="none" stroke="#a7a7a9" stroke-width="2.2"/>
<circle cx="2435.4" cy="1513.09" r="3.3" fill="#a7a7a9" stroke="none" stroke-width="0"/>
<circle cx="2471" cy="1496.34" r="3.3" fill="#a7a7a9" stroke="none" stroke-width="0"/>
<circle cx="2506.6" cy="1492.16" r="3.3" fill="#a7a7a9" stroke="none" stroke-width="0"/>
<circle cx="2542.2" cy="1504.72" r="3.3" fill="#a7a7a9" stroke="none" stroke-width="0"/>
<circle cx="2577.8" cy="1508.9" r="3.3" fill="#a7a7a9" stroke="none" stroke-width="0"/>
<circle cx="2613.4" cy="1426.56" r="3.3" fill="#a7a7a9" stroke="none" stroke-width="0"/>
<circle cx="2649" cy="1326.07" r="3.3" fill="#a7a7a9" stroke="none" stroke-width="0"/>
<circle cx="2684.6" cy="1302.9" r="3.3" fill="#a7a7a9" stroke="none" stroke-width="0"/>
<circle cx="2720.2" cy="1323.84" r="3.3" fill="#a7a7a9" stroke="none" stroke-width="0"/>
<circle cx="2755.8" cy="1245.68" r="3.3" fill="#a7a7a9" stroke="none" stroke-width="0"/>
<circle cx="2791.4" cy="1235.35" r="3.3" fill="#a7a7a9" stroke="none" stroke-width="0"/>
<polyline points="2435.4,1513.09 2471,1494.95 2506.6,1489.36 2542.2,1499.13 2577.8,1504.72 2613.4,1434.93 2649,1373.52 2684.6,1345.61 2720.2,1351.19 2755.8,1306.53 2791.4,1312.11" fill="none" stroke="#a7a7a9" stroke-width="2.2"/>
<circle cx="2435.4" cy="1513.09" r="3.3" fill="#a7a7a9" stroke="none" stroke-width="0"/>
<circle cx="2471" cy="1494.95" r="3.3" fill="#a7a7a9" stroke="none" stroke-width="0"/>
<circle cx="2506.6" cy="1489.36" r="3.3" fill="#a7a7a9" stroke="none" stroke-width="0"/>
<circle cx="2542.2" cy="1499.13" r="3.3" fill="#a7a7a9" stroke="none" stroke-width="0"/>
<circle cx="2577.8" cy="1504.72" r="3.3" fill="#a7a7a9" stroke="none" stroke-width="0"/>
<circle cx="2613.4" cy="1434.93" r="3.3" fill="#a7a7a9" stroke="none" stroke-width="0"/>
<circle cx="2649" cy="1373.52" r="3.3" fill="#a7a7a9" stroke="none" stroke-width="0"/>
<circle cx="2684.6" cy="1345.61" r="3.3" fill="#a7a7a9" stroke="none" stroke-width="0"/>
<circle cx="2720.2" cy="1351.19" r="3.3" fill="#a7a7a9" stroke="none" stroke-width="0"/>
<circle cx="2755.8" cy="1306.53" r="3.3" fill="#a7a7a9" stroke="none" stroke-width="0"/>
<circle cx="2791.4" cy="1312.11" r="3.3" fill="#a7a7a9" stroke="none" stroke-width="0"/>
<polyline points="2933.8,1189.62 2969.4,1214.5 3005,1285.59 3040.6,1214.5 3076.2,1194.36 3111.8,1316.4 3147.4,1222.8 3183,1205.02 3218.6,1335.36 3254.2,1199.1" fill="none" stroke="#a7a7a9" stroke-width="2.2"/>
<circle cx="2933.8" cy="1189.62" r="3.3" fill="#a7a7a9" stroke="none" stroke-width="0"/>
<circle cx="2969.4" cy="1214.5" r="3.3" fill="#a7a7a9" stroke="none" stroke-width="0"/>
<circle cx="3005" cy="1285.59" r="3.3" fill="#a7a7a9" stroke="none" stroke-width="0"/>
<circle cx="3040.6" cy="1214.5" r="3.3" fill="#a7a7a9" stroke="none" stroke-width="0"/>
<circle cx="3076.2" cy="1194.36" r="3.3" fill="#a7a7a9" stroke="none" stroke-width="0"/>
<circle cx="3111.8" cy="1316.4" r="3.3" fill="#a7a7a9" stroke="none" stroke-width="0"/>
<circle cx="3147.4" cy="1222.8" r="3.3" fill="#a7a7a9" stroke="none" stroke-width="0"/>
<circle cx="3183" cy="1205.02" r="3.3" fill="#a7a7a9" stroke="none" stroke-width="0"/>
<circle cx="3218.6" cy="1335.36" r="3.3" fill="#a7a7a9" stroke="none" stroke-width="0"/>
<circle cx="3254.2" cy="1199.1" r="3.3" fill="#a7a7a9" stroke="none" stroke-width="0"/>
<polyline points="2933.8,1220.43 2969.4,1193.18 3005,1394.6 3040.6,1178.96 3076.2,1174.22 3111.8,1368.53 3147.4,1233.46 3183,1231.09 3218.6,1354.31 3254.2,1209.76" fill="none" stroke="#a7a7a9" stroke-width="2.2"/>
<circle cx="2933.8" cy="1220.43" r="3.3" fill="#a7a7a9" stroke="none" stroke-width="0"/>
<circle cx="2969.4" cy="1193.18" r="3.3" fill="#a7a7a9" stroke="none" stroke-width="0"/>
<circle cx="3005" cy="1394.6" r="3.3" fill="#a7a7a9" stroke="none" stroke-width="0"/>
<circle cx="3040.6" cy="1178.96" r="3.3" fill="#a7a7a9" stroke="none" stroke-width="0"/>
<circle cx="3076.2" cy="1174.22" r="3.3" fill="#a7a7a9" stroke="none" stroke-width="0"/>
<circle cx="3111.8" cy="1368.53" r="3.3" fill="#a7a7a9" stroke="none" stroke-width="0"/>
<circle cx="3147.4" cy="1233.46" r="3.3" fill="#a7a7a9" stroke="none" stroke-width="0"/>
<circle cx="3183" cy="1231.09" r="3.3" fill="#a7a7a9" stroke="none" stroke-width="0"/>
<circle cx="3218.6" cy="1354.31" r="3.3" fill="#a7a7a9" stroke="none" stroke-width="0"/>
<circle cx="3254.2" cy="1209.76" r="3.3" fill="#a7a7a9" stroke="none" stroke-width="0"/>
<polyline points="2933.8,1287.96 2969.4,1264.27 3005,1418.29 3040.6,1291.52 3076.2,1244.12 3111.8,1382.75 3147.4,1309.29 3183,1250.05 3218.6,1361.42 3254.2,1277.3" fill="none" stroke="#a7a7a9" stroke-width="2.2"/>
<circle cx="2933.8" cy="1287.96" r="3.3" fill="#a7a7a9" stroke="none" stroke-width="0"/>
<circle cx="2969.4" cy="1264.27" r="3.3" fill="#a7a7a9" stroke="none" stroke-width="0"/>
<circle cx="3005" cy="1418.29" r="3.3" fill="#a7a7a9" stroke="none" stroke-width="0"/>
<circle cx="3040.6" cy="1291.52" r="3.3" fill="#a7a7a9" stroke="none" stroke-width="0"/>
<circle cx="3076.2" cy="1244.12" r="3.3" fill="#a7a7a9" stroke="none" stroke-width="0"/>
<circle cx="3111.8" cy="1382.75" r="3.3" fill="#a7a7a9" stroke="none" stroke-width="0"/>
<circle cx="3147.4" cy="1309.29" r="3.3" fill="#a7a7a9" stroke="none" stroke-width="0"/>
<circle cx="3183" cy="1250.05" r="3.3" fill="#a7a7a9" stroke="none" stroke-width="0"/>
<circle cx="3218.6" cy="1361.42" r="3.3" fill="#a7a7a9" stroke="none" stroke-width="0"/>
<circle cx="3254.2" cy="1277.3" r="3.3" fill="#a7a7a9" stroke="none" stroke-width="0"/>
<polyline points="2933.8,1335.36 2969.4,1303.36 3005,1342.46 3040.6,1240.57 3076.2,1231.09 3111.8,1366.16 3147.4,1348.39 3183,1233.46 3218.6,1349.57 3254.2,1335.36" fill="none" stroke="#a7a7a9" stroke-width="2.2"/>
<circle cx="2933.8" cy="1335.36" r="3.3" fill="#a7a7a9" stroke="none" stroke-width="0"/>
<circle cx="2969.4" cy="1303.36" r="3.3" fill="#a7a7a9" stroke="none" stroke-width="0"/>
<circle cx="3005" cy="1342.46" r="3.3" fill="#a7a7a9" stroke="none" stroke-width="0"/>
<circle cx="3040.6" cy="1240.57" r="3.3" fill="#a7a7a9" stroke="none" stroke-width="0"/>
<circle cx="3076.2" cy="1231.09" r="3.3" fill="#a7a7a9" stroke="none" stroke-width="0"/>
<circle cx="3111.8" cy="1366.16" r="3.3" fill="#a7a7a9" stroke="none" stroke-width="0"/>
<circle cx="3147.4" cy="1348.39" r="3.3" fill="#a7a7a9" stroke="none" stroke-width="0"/>
<circle cx="3183" cy="1233.46" r="3.3" fill="#a7a7a9" stroke="none" stroke-width="0"/>
<circle cx="3218.6" cy="1349.57" r="3.3" fill="#a7a7a9" stroke="none" stroke-width="0"/>
<circle cx="3254.2" cy="1335.36" r="3.3" fill="#a7a7a9" stroke="none" stroke-width="0"/>
<polyline points="2933.8,1240.57 2969.4,1209.76 3005,1295.07 3040.6,1242.94 3076.2,1240.57 3111.8,1316.4 3147.4,1227.54 3183,1245.31 3218.6,1325.88 3254.2,1260.71" fill="none" stroke="#a7a7a9" stroke-width="2.2"/>
<circle cx="2933.8" cy="1240.57" r="3.3" fill="#a7a7a9" stroke="none" stroke-width="0"/>
<circle cx="2969.4" cy="1209.76" r="3.3" fill="#a7a7a9" stroke="none" stroke-width="0"/>
<circle cx="3005" cy="1295.07" r="3.3" fill="#a7a7a9" stroke="none" stroke-width="0"/>
<circle cx="3040.6" cy="1242.94" r="3.3" fill="#a7a7a9" stroke="none" stroke-width="0"/>
<circle cx="3076.2" cy="1240.57" r="3.3" fill="#a7a7a9" stroke="none" stroke-width="0"/>
<circle cx="3111.8" cy="1316.4" r="3.3" fill="#a7a7a9" stroke="none" stroke-width="0"/>
<circle cx="3147.4" cy="1227.54" r="3.3" fill="#a7a7a9" stroke="none" stroke-width="0"/>
<circle cx="3183" cy="1245.31" r="3.3" fill="#a7a7a9" stroke="none" stroke-width="0"/>
<circle cx="3218.6" cy="1325.88" r="3.3" fill="#a7a7a9" stroke="none" stroke-width="0"/>
<circle cx="3254.2" cy="1260.71" r="3.3" fill="#a7a7a9" stroke="none" stroke-width="0"/>
<polyline points="2933.8,1254.79 2969.4,1219.24 3005,1318.77 3040.6,1228.72 3076.2,1207.39 3111.8,1354.31 3147.4,1254.79 3183,1226.35 3218.6,1302.18 3254.2,1231.09" fill="none" stroke="#a7a7a9" stroke-width="2.2"/>
<circle cx="2933.8" cy="1254.79" r="3.3" fill="#a7a7a9" stroke="none" stroke-width="0"/>
<circle cx="2969.4" cy="1219.24" r="3.3" fill="#a7a7a9" stroke="none" stroke-width="0"/>
<circle cx="3005" cy="1318.77" r="3.3" fill="#a7a7a9" stroke="none" stroke-width="0"/>
<circle cx="3040.6" cy="1228.72" r="3.3" fill="#a7a7a9" stroke="none" stroke-width="0"/>
<circle cx="3076.2" cy="1207.39" r="3.3" fill="#a7a7a9" stroke="none" stroke-width="0"/>
<circle cx="3111.8" cy="1354.31" r="3.3" fill="#a7a7a9" stroke="none" stroke-width="0"/>
<circle cx="3147.4" cy="1254.79" r="3.3" fill="#a7a7a9" stroke="none" stroke-width="0"/>
<circle cx="3183" cy="1226.35" r="3.3" fill="#a7a7a9" stroke="none" stroke-width="0"/>
<circle cx="3218.6" cy="1302.18" r="3.3" fill="#a7a7a9" stroke="none" stroke-width="0"/>
<circle cx="3254.2" cy="1231.09" r="3.3" fill="#a7a7a9" stroke="none" stroke-width="0"/>
<circle cx="2862.6" cy="1194.83" r="2.9" fill="#a7a7a9" stroke="none" stroke-width="0"/>
<circle cx="2862.6" cy="1213.32" r="2.9" fill="#a7a7a9" stroke="none" stroke-width="0"/>
<circle cx="2862.6" cy="1298.63" r="2.9" fill="#a7a7a9" stroke="none" stroke-width="0"/>
<circle cx="2862.6" cy="1308.82" r="2.9" fill="#a7a7a9" stroke="none" stroke-width="0"/>
<circle cx="2862.6" cy="1325.88" r="2.9" fill="#a7a7a9" stroke="none" stroke-width="0"/>
<circle cx="2862.6" cy="1331.8" r="2.9" fill="#a7a7a9" stroke="none" stroke-width="0"/>
<polyline points="2435.4,1513.09 2471,1497.18 2506.6,1475.41 2542.2,1472.62 2577.8,1482.39 2613.4,1425.16 2649,1376.32 2684.6,1355.94 2720.2,1350.64 2755.8,1284.76 2791.4,1294.81" fill="none" stroke="#000" stroke-width="4.6"/>
<line x1="2471" y1="1483.78" x2="2471" y2="1509.46" stroke="#000" stroke-width="3"/>
<line x1="2463" y1="1483.78" x2="2479" y2="1483.78" stroke="#000" stroke-width="3"/>
<line x1="2463" y1="1509.46" x2="2479" y2="1509.46" stroke="#000" stroke-width="3"/>
<line x1="2506.6" y1="1451.68" x2="2506.6" y2="1499.97" stroke="#000" stroke-width="3"/>
<line x1="2498.6" y1="1451.68" x2="2514.6" y2="1451.68" stroke="#000" stroke-width="3"/>
<line x1="2498.6" y1="1499.97" x2="2514.6" y2="1499.97" stroke="#000" stroke-width="3"/>
<line x1="2542.2" y1="1430.75" x2="2542.2" y2="1513.65" stroke="#000" stroke-width="3"/>
<line x1="2534.2" y1="1430.75" x2="2550.2" y2="1430.75" stroke="#000" stroke-width="3"/>
<line x1="2534.2" y1="1513.65" x2="2550.2" y2="1513.65" stroke="#000" stroke-width="3"/>
<line x1="2577.8" y1="1459.5" x2="2577.8" y2="1506.11" stroke="#000" stroke-width="3"/>
<line x1="2569.8" y1="1459.5" x2="2585.8" y2="1459.5" stroke="#000" stroke-width="3"/>
<line x1="2569.8" y1="1506.11" x2="2585.8" y2="1506.11" stroke="#000" stroke-width="3"/>
<line x1="2613.4" y1="1402.83" x2="2613.4" y2="1448.89" stroke="#000" stroke-width="3"/>
<line x1="2605.4" y1="1402.83" x2="2621.4" y2="1402.83" stroke="#000" stroke-width="3"/>
<line x1="2605.4" y1="1448.89" x2="2621.4" y2="1448.89" stroke="#000" stroke-width="3"/>
<line x1="2649" y1="1350.36" x2="2649" y2="1402" stroke="#000" stroke-width="3"/>
<line x1="2641" y1="1350.36" x2="2657" y2="1350.36" stroke="#000" stroke-width="3"/>
<line x1="2641" y1="1402" x2="2657" y2="1402" stroke="#000" stroke-width="3"/>
<line x1="2684.6" y1="1329.42" x2="2684.6" y2="1381.9" stroke="#000" stroke-width="3"/>
<line x1="2676.6" y1="1329.42" x2="2692.6" y2="1329.42" stroke="#000" stroke-width="3"/>
<line x1="2676.6" y1="1381.9" x2="2692.6" y2="1381.9" stroke="#000" stroke-width="3"/>
<line x1="2720.2" y1="1342.26" x2="2720.2" y2="1359.57" stroke="#000" stroke-width="3"/>
<line x1="2712.2" y1="1342.26" x2="2728.2" y2="1342.26" stroke="#000" stroke-width="3"/>
<line x1="2712.2" y1="1359.57" x2="2728.2" y2="1359.57" stroke="#000" stroke-width="3"/>
<line x1="2755.8" y1="1272.48" x2="2755.8" y2="1297.6" stroke="#000" stroke-width="3"/>
<line x1="2747.8" y1="1272.48" x2="2763.8" y2="1272.48" stroke="#000" stroke-width="3"/>
<line x1="2747.8" y1="1297.6" x2="2763.8" y2="1297.6" stroke="#000" stroke-width="3"/>
<line x1="2791.4" y1="1280.01" x2="2791.4" y2="1308.76" stroke="#000" stroke-width="3"/>
<line x1="2783.4" y1="1280.01" x2="2799.4" y2="1280.01" stroke="#000" stroke-width="3"/>
<line x1="2783.4" y1="1308.76" x2="2799.4" y2="1308.76" stroke="#000" stroke-width="3"/>
<circle cx="2435.4" cy="1513.09" r="8.2" fill="#000" stroke="none" stroke-width="0"/>
<circle cx="2471" cy="1497.18" r="8.2" fill="#000" stroke="none" stroke-width="0"/>
<circle cx="2506.6" cy="1475.41" r="8.2" fill="#000" stroke="none" stroke-width="0"/>
<circle cx="2542.2" cy="1472.62" r="8.2" fill="#000" stroke="none" stroke-width="0"/>
<circle cx="2577.8" cy="1482.39" r="8.2" fill="#000" stroke="none" stroke-width="0"/>
<circle cx="2613.4" cy="1425.16" r="8.2" fill="#000" stroke="none" stroke-width="0"/>
<circle cx="2649" cy="1376.32" r="8.2" fill="#000" stroke="none" stroke-width="0"/>
<circle cx="2684.6" cy="1355.94" r="8.2" fill="#000" stroke="none" stroke-width="0"/>
<circle cx="2720.2" cy="1350.64" r="8.2" fill="#000" stroke="none" stroke-width="0"/>
<circle cx="2755.8" cy="1284.76" r="8.2" fill="#000" stroke="none" stroke-width="0"/>
<circle cx="2791.4" cy="1294.81" r="8.2" fill="#000" stroke="none" stroke-width="0"/>
<line x1="2862.6" y1="1254.08" x2="2862.6" y2="1296.26" stroke="#000" stroke-width="3"/>
<line x1="2854.6" y1="1254.08" x2="2870.6" y2="1254.08" stroke="#000" stroke-width="3"/>
<line x1="2854.6" y1="1296.26" x2="2870.6" y2="1296.26" stroke="#000" stroke-width="3"/>
<circle cx="2862.6" cy="1275.4" r="8.2" fill="#000" stroke="none" stroke-width="0"/>
<polyline points="2933.8,1254.79 2969.4,1233.93 3005,1343.65 3040.6,1232.99 3076.2,1215.21 3111.8,1350.76 3147.4,1265.92 3183,1231.8 3218.6,1338.2 3254.2,1251.94" fill="none" stroke="#000" stroke-width="4.6"/>
<line x1="2933.8" y1="1237.01" x2="2933.8" y2="1272.56" stroke="#39b54a" stroke-width="3.2"/>
<line x1="2925.8" y1="1237.01" x2="2941.8" y2="1237.01" stroke="#39b54a" stroke-width="3.2"/>
<line x1="2925.8" y1="1272.56" x2="2941.8" y2="1272.56" stroke="#39b54a" stroke-width="3.2"/>
<circle cx="2933.8" cy="1254.79" r="8.2" fill="#39b54a" stroke="none" stroke-width="0"/>
<line x1="2969.4" y1="1219.24" x2="2969.4" y2="1248.86" stroke="#39b54a" stroke-width="3.2"/>
<line x1="2961.4" y1="1219.24" x2="2977.4" y2="1219.24" stroke="#39b54a" stroke-width="3.2"/>
<line x1="2961.4" y1="1248.86" x2="2977.4" y2="1248.86" stroke="#39b54a" stroke-width="3.2"/>
<circle cx="2969.4" cy="1233.93" r="8.2" fill="#39b54a" stroke="none" stroke-width="0"/>
<line x1="3005" y1="1324.69" x2="3005" y2="1361.9" stroke="#e31e24" stroke-width="3.2"/>
<line x1="2997" y1="1324.69" x2="3013" y2="1324.69" stroke="#e31e24" stroke-width="3.2"/>
<line x1="2997" y1="1361.9" x2="3013" y2="1361.9" stroke="#e31e24" stroke-width="3.2"/>
<circle cx="3005" cy="1343.65" r="8.2" fill="#e31e24" stroke="none" stroke-width="0"/>
<line x1="3040.6" y1="1219.24" x2="3040.6" y2="1246.49" stroke="#39b54a" stroke-width="3.2"/>
<line x1="3032.6" y1="1219.24" x2="3048.6" y2="1219.24" stroke="#39b54a" stroke-width="3.2"/>
<line x1="3032.6" y1="1246.49" x2="3048.6" y2="1246.49" stroke="#39b54a" stroke-width="3.2"/>
<circle cx="3040.6" cy="1232.99" r="8.2" fill="#39b54a" stroke="none" stroke-width="0"/>
<line x1="3076.2" y1="1205.02" x2="3076.2" y2="1225.17" stroke="#39b54a" stroke-width="3.2"/>
<line x1="3068.2" y1="1205.02" x2="3084.2" y2="1205.02" stroke="#39b54a" stroke-width="3.2"/>
<line x1="3068.2" y1="1225.17" x2="3084.2" y2="1225.17" stroke="#39b54a" stroke-width="3.2"/>
<circle cx="3076.2" cy="1215.21" r="8.2" fill="#39b54a" stroke="none" stroke-width="0"/>
<line x1="3111.8" y1="1341.28" x2="3111.8" y2="1359.05" stroke="#e31e24" stroke-width="3.2"/>
<line x1="3103.8" y1="1341.28" x2="3119.8" y2="1341.28" stroke="#e31e24" stroke-width="3.2"/>
<line x1="3103.8" y1="1359.05" x2="3119.8" y2="1359.05" stroke="#e31e24" stroke-width="3.2"/>
<rect x="3103.8" y="1342.76" width="16" height="16" fill="#e31e24" stroke="none" stroke-width="0"/>
<line x1="3147.4" y1="1248.15" x2="3147.4" y2="1283.7" stroke="#39b54a" stroke-width="3.2"/>
<line x1="3139.4" y1="1248.15" x2="3155.4" y2="1248.15" stroke="#39b54a" stroke-width="3.2"/>
<line x1="3139.4" y1="1283.7" x2="3155.4" y2="1283.7" stroke="#39b54a" stroke-width="3.2"/>
<circle cx="3147.4" cy="1265.92" r="8.2" fill="#39b54a" stroke="none" stroke-width="0"/>
<rect x="3175" y="1223.8" width="16" height="16" fill="#39b54a" stroke="none" stroke-width="0"/>
<rect x="3210.6" y="1330.2" width="16" height="16" fill="#e31e24" stroke="none" stroke-width="0"/>
<line x1="3254.2" y1="1234.64" x2="3254.2" y2="1269.48" stroke="#39b54a" stroke-width="3.2"/>
<line x1="3246.2" y1="1234.64" x2="3262.2" y2="1234.64" stroke="#39b54a" stroke-width="3.2"/>
<line x1="3246.2" y1="1269.48" x2="3262.2" y2="1269.48" stroke="#39b54a" stroke-width="3.2"/>
<circle cx="3254.2" cy="1251.94" r="8.2" fill="#39b54a" stroke="none" stroke-width="0"/>
<line x1="3584.1" y1="1149.7" x2="3584.1" y2="1589.2" stroke="#141213" stroke-width="2.6"/>
<line x1="3584.1" y1="1626.2" x2="3584.1" y2="1698" stroke="#141213" stroke-width="2.6"/>
<line x1="3561.5" y1="1151.4" x2="3584.1" y2="1151.4" stroke="#141213" stroke-width="2.6"/>
<text x="3487.55" y="1166" font-size="41.2" fill="#141213" stroke="#141213">100</text>
<line x1="3561.5" y1="1223.7" x2="3584.1" y2="1223.7" stroke="#141213" stroke-width="2.6"/>
<text x="3510.55" y="1238.3" font-size="41.2" fill="#141213" stroke="#141213">90</text>
<line x1="3561.5" y1="1296" x2="3584.1" y2="1296" stroke="#141213" stroke-width="2.6"/>
<text x="3510.55" y="1310.6" font-size="41.2" fill="#141213" stroke="#141213">80</text>
<line x1="3561.5" y1="1368.3" x2="3584.1" y2="1368.3" stroke="#141213" stroke-width="2.6"/>
<text x="3510.55" y="1382.9" font-size="41.2" fill="#141213" stroke="#141213">70</text>
<line x1="3561.5" y1="1440.6" x2="3584.1" y2="1440.6" stroke="#141213" stroke-width="2.6"/>
<text x="3510.55" y="1455.2" font-size="41.2" fill="#141213" stroke="#141213">60</text>
<line x1="3561.5" y1="1512.9" x2="3584.1" y2="1512.9" stroke="#141213" stroke-width="2.6"/>
<text x="3510.55" y="1527.5" font-size="41.2" fill="#141213" stroke="#141213">50</text>
<text x="3510.55" y="1600.4" font-size="41.2" fill="#141213" stroke="#141213">40</text>
<text x="3510.55" y="1641" font-size="41.2" fill="#141213" stroke="#141213">10</text>
<text x="3533.55" y="1712" font-size="41.2" fill="#141213" stroke="#141213">0</text>
<line x1="3571" y1="1575" x2="3598.2" y2="1601.9" stroke="#141213" stroke-width="2.6"/>
<line x1="3571" y1="1610.8" x2="3598.2" y2="1637.4" stroke="#141213" stroke-width="2.6"/>
<line x1="3561.5" y1="1696.6" x2="3950.5" y2="1696.6" stroke="#141213" stroke-width="2.8"/>
<line x1="3687.4" y1="1696.6" x2="3687.4" y2="1720.9" stroke="#141213" stroke-width="2.6"/>
<line x1="3843.4" y1="1696.6" x2="3843.4" y2="1720.9" stroke="#141213" stroke-width="2.6"/>
<text x="3618.45" y="1771.2" font-size="46.6" fill="#39b54a" stroke="#39b54a">Saline</text>
<text x="3792.25" y="1771.2" font-size="46.4" fill="#e31e24" stroke="#e31e24">CNO</text>
<text x="3312.75" y="1421.75" font-size="41.5" fill="#141213" stroke="#141213" transform="rotate(-90 3470 1411)">Performance (%)</text>
<polyline points="3687.3,1185.6 3687.3,1168.7 3844,1168.7 3844,1185.6" fill="none" stroke="#141213" stroke-width="2.6"/>
<text x="3705.1" y="1172.15" font-size="68" font-weight="bold" fill="#000" stroke="#000">*</text>
<text x="3737" y="1172.15" font-size="68" font-weight="bold" fill="#000" stroke="#000">*</text>
<text x="3768.9" y="1172.15" font-size="68" font-weight="bold" fill="#000" stroke="#000">*</text>
<text x="3800.8" y="1172.15" font-size="68" font-weight="bold" fill="#000" stroke="#000">*</text>
<line x1="3687.3" y1="1204.2" x2="3844" y2="1330.1" stroke="#a7a7a9" stroke-width="2.4"/>
<circle cx="3687.3" cy="1204.2" r="4" fill="#a7a7a9" stroke="none" stroke-width="0"/>
<circle cx="3844" cy="1330.1" r="4" fill="#a7a7a9" stroke="none" stroke-width="0"/>
<line x1="3687.3" y1="1213.4" x2="3844" y2="1358.9" stroke="#a7a7a9" stroke-width="2.4"/>
<circle cx="3687.3" cy="1213.4" r="4" fill="#a7a7a9" stroke="none" stroke-width="0"/>
<circle cx="3844" cy="1358.9" r="4" fill="#a7a7a9" stroke="none" stroke-width="0"/>
<line x1="3687.3" y1="1245.5" x2="3844" y2="1314.9" stroke="#a7a7a9" stroke-width="2.4"/>
<circle cx="3687.3" cy="1245.5" r="4" fill="#a7a7a9" stroke="none" stroke-width="0"/>
<circle cx="3844" cy="1314.9" r="4" fill="#a7a7a9" stroke="none" stroke-width="0"/>
<line x1="3687.3" y1="1250" x2="3844" y2="1366.3" stroke="#a7a7a9" stroke-width="2.4"/>
<circle cx="3687.3" cy="1250" r="4" fill="#a7a7a9" stroke="none" stroke-width="0"/>
<circle cx="3844" cy="1366.3" r="4" fill="#a7a7a9" stroke="none" stroke-width="0"/>
<line x1="3687.3" y1="1255" x2="3844" y2="1350.4" stroke="#a7a7a9" stroke-width="2.4"/>
<circle cx="3687.3" cy="1255" r="4" fill="#a7a7a9" stroke="none" stroke-width="0"/>
<circle cx="3844" cy="1350.4" r="4" fill="#a7a7a9" stroke="none" stroke-width="0"/>
<line x1="3687.3" y1="1268.2" x2="3844" y2="1336.9" stroke="#a7a7a9" stroke-width="2.4"/>
<circle cx="3687.3" cy="1268.2" r="4" fill="#a7a7a9" stroke="none" stroke-width="0"/>
<circle cx="3844" cy="1336.9" r="4" fill="#a7a7a9" stroke="none" stroke-width="0"/>
<line x1="3687.3" y1="1237.7" x2="3844" y2="1343" stroke="#000" stroke-width="4.6"/>
<line x1="3687.3" y1="1215.7" x2="3687.3" y2="1259" stroke="#000" stroke-width="2.8"/>
<line x1="3679" y1="1215.7" x2="3695.6" y2="1215.7" stroke="#000" stroke-width="2.8"/>
<line x1="3679" y1="1259" x2="3695.6" y2="1259" stroke="#000" stroke-width="2.8"/>
<circle cx="3687.3" cy="1237.7" r="8" fill="#000" stroke="none" stroke-width="0"/>
<line x1="3844" y1="1325" x2="3844" y2="1360.6" stroke="#000" stroke-width="2.8"/>
<line x1="3835.7" y1="1325" x2="3852.3" y2="1325" stroke="#000" stroke-width="2.8"/>
<line x1="3835.7" y1="1360.6" x2="3852.3" y2="1360.6" stroke="#000" stroke-width="2.8"/>
<rect x="3836" y="1335" width="16" height="16" fill="#000" stroke="none" stroke-width="0"/>
</svg>
</body></html>
